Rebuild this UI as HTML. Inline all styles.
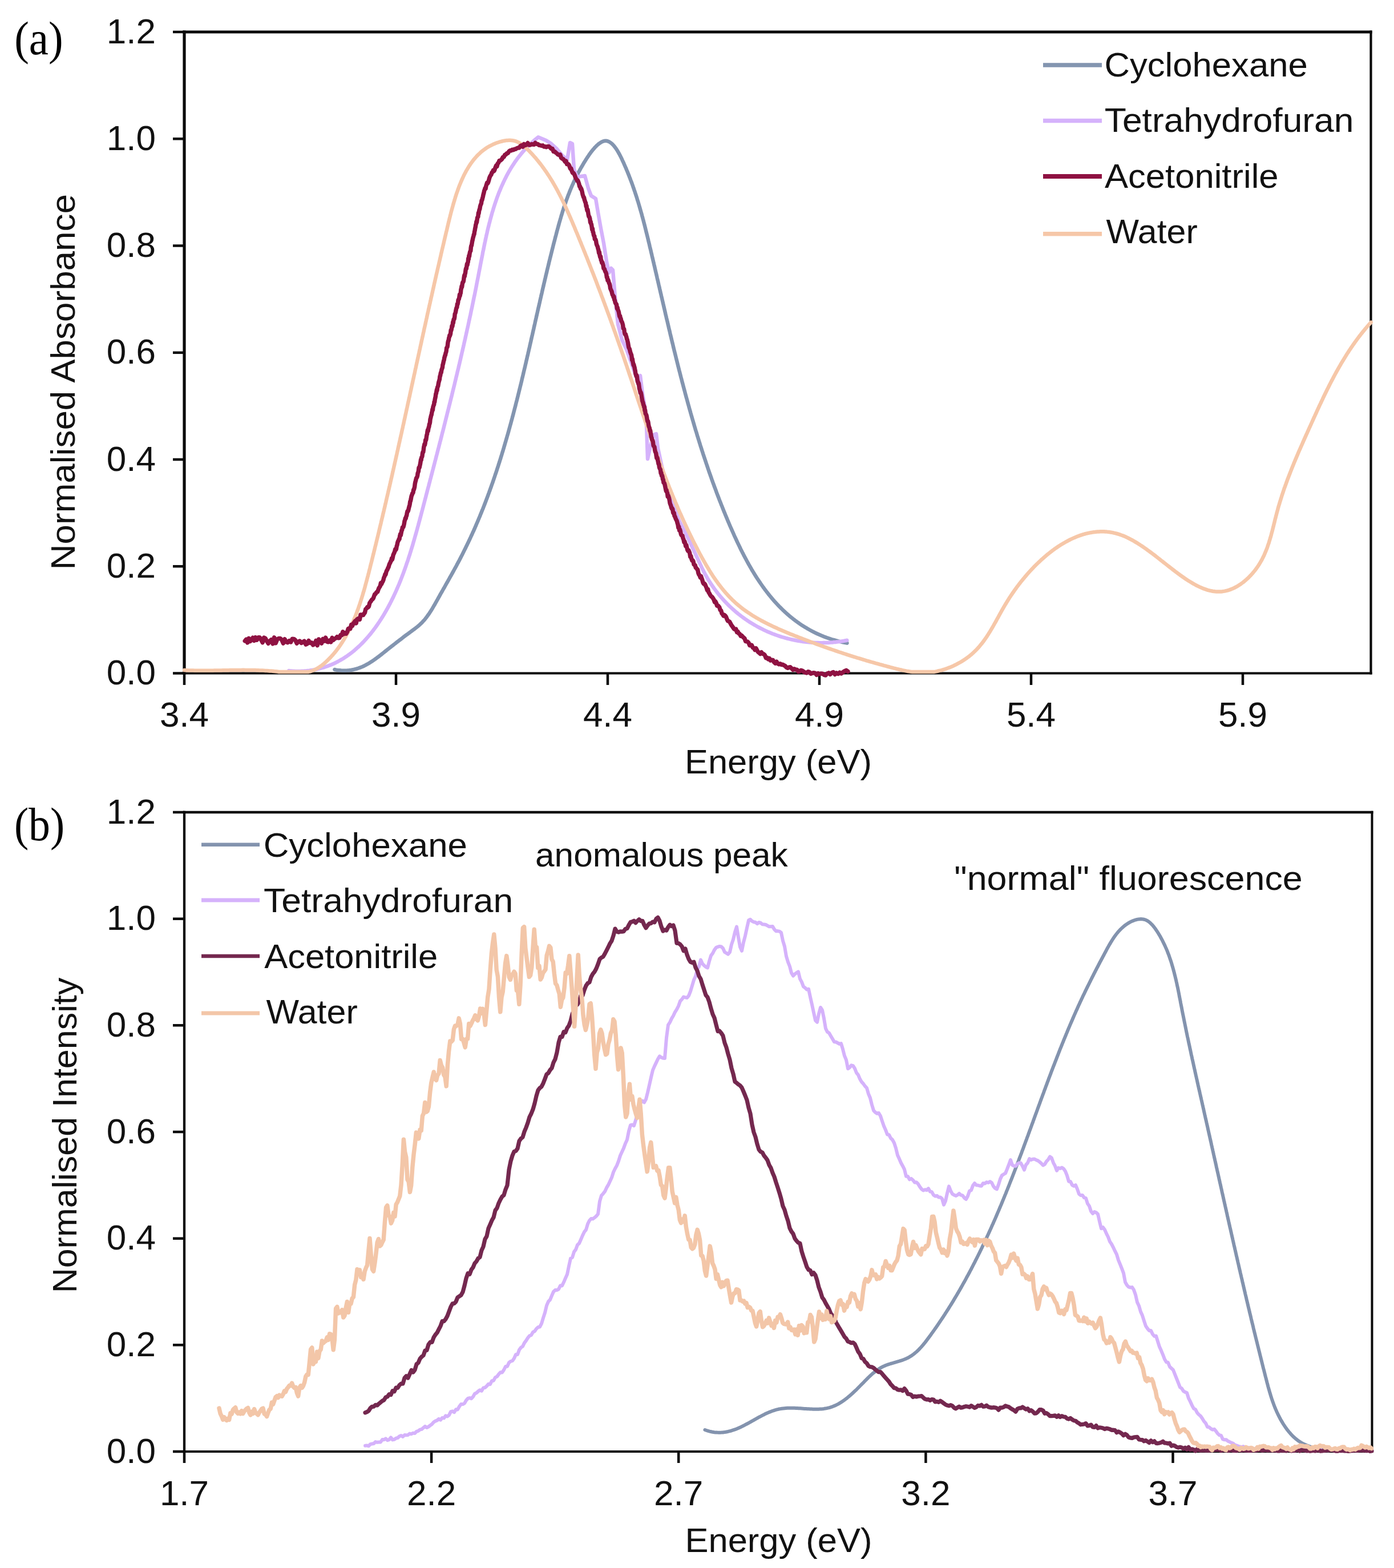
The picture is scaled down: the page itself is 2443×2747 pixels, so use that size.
<!DOCTYPE html><html><head><meta charset="utf-8"><style>html,body{margin:0;padding:0;background:#fff;}svg{display:block;filter:blur(0.6px);}.t{font-family:"Liberation Sans",Arial,sans-serif;fill:#111;}.s{font-family:"Liberation Serif","Times New Roman",serif;fill:#000;}</style></head><body>
<svg xmlns="http://www.w3.org/2000/svg" width="2443" height="2747" viewBox="0 0 2443 2747">
<rect width="2443" height="2747" fill="#fff"/>
<g stroke="#0a0a0a" fill="none">
<path d="M320.40 56.00 H2404.60" stroke-width="5.0"/><path d="M323.00 53.50 V1181.60" stroke-width="5.2"/><path d="M2402.50 53.50 V1181.60" stroke-width="4.2"/><path d="M320.40 1179.50 H2404.60" stroke-width="4.2"/>
<line x1="303" y1="1179.5" x2="323.0" y2="1179.5" stroke-width="4.5"/>
<line x1="303" y1="992.2" x2="323.0" y2="992.2" stroke-width="4.5"/>
<line x1="303" y1="805.0" x2="323.0" y2="805.0" stroke-width="4.5"/>
<line x1="303" y1="617.8" x2="323.0" y2="617.8" stroke-width="4.5"/>
<line x1="303" y1="430.5" x2="323.0" y2="430.5" stroke-width="4.5"/>
<line x1="303" y1="243.2" x2="323.0" y2="243.2" stroke-width="4.5"/>
<line x1="303" y1="56.0" x2="323.0" y2="56.0" stroke-width="4.5"/>
<line x1="323.0" y1="1179.5" x2="323.0" y2="1200" stroke-width="4.5"/>
<line x1="694.0" y1="1179.5" x2="694.0" y2="1200" stroke-width="4.5"/>
<line x1="1065.0" y1="1179.5" x2="1065.0" y2="1200" stroke-width="4.5"/>
<line x1="1436.0" y1="1179.5" x2="1436.0" y2="1200" stroke-width="4.5"/>
<line x1="1807.0" y1="1179.5" x2="1807.0" y2="1200" stroke-width="4.5"/>
<line x1="2178.0" y1="1179.5" x2="2178.0" y2="1200" stroke-width="4.5"/>
</g>
<path d="M586.4 1173.0 589.3 1173.6 592.2 1174.0 595.1 1174.3 597.8 1174.6 600.6 1174.7 603.3 1174.8 605.9 1174.7 608.5 1174.6 611.1 1174.4 613.6 1174.1 616.1 1173.7 618.5 1173.3 620.9 1172.7 623.2 1172.1 625.6 1171.5 627.8 1170.7 630.1 1169.9 632.3 1169.1 634.5 1168.2 636.7 1167.2 638.8 1166.2 640.9 1165.1 643.0 1163.9 645.1 1162.8 647.2 1161.6 649.2 1160.3 651.2 1159.0 653.2 1157.7 655.2 1156.3 657.2 1154.9 659.2 1153.5 661.1 1152.0 663.1 1150.6 665.0 1149.1 667.0 1147.6 668.9 1146.1 670.9 1144.5 672.8 1143.0 674.8 1141.4 676.7 1139.9 678.7 1138.3 680.6 1136.8 682.6 1135.2 684.6 1133.7 686.5 1132.1 688.5 1130.6 690.5 1129.0 692.5 1127.5 694.4 1125.9 696.4 1124.4 698.4 1122.9 700.4 1121.3 702.4 1119.8 704.4 1118.3 706.4 1116.7 708.4 1115.2 710.4 1113.7 712.4 1112.2 714.3 1110.8 716.3 1109.3 718.3 1107.8 720.3 1106.4 722.3 1104.9 724.3 1103.4 726.3 1102.0 728.2 1100.5 730.1 1099.0 732.0 1097.5 733.8 1096.0 735.6 1094.4 737.4 1092.7 739.1 1091.1 740.7 1089.3 742.3 1087.6 743.9 1085.8 745.4 1084.0 746.9 1082.1 748.3 1080.2 749.7 1078.2 751.1 1076.3 752.5 1074.3 753.8 1072.3 755.1 1070.2 756.4 1068.2 757.7 1066.1 758.9 1064.0 760.1 1061.9 761.4 1059.8 762.6 1057.7 763.8 1055.5 765.0 1053.4 766.2 1051.2 767.4 1049.1 768.6 1046.9 769.8 1044.8 771.0 1042.6 772.2 1040.4 773.5 1038.3 774.7 1036.1 775.9 1034.0 777.1 1031.8 778.4 1029.7 779.6 1027.5 780.8 1025.3 782.0 1023.2 783.2 1021.0 784.5 1018.8 785.7 1016.7 786.9 1014.5 788.1 1012.3 789.3 1010.1 790.6 1008.0 791.8 1005.8 793.0 1003.6 794.2 1001.4 795.4 999.2 796.6 997.0 797.8 994.9 799.0 992.7 800.2 990.5 801.3 988.3 802.5 986.1 803.7 983.9 804.9 981.7 806.0 979.5 807.2 977.2 808.3 975.0 809.5 972.8 810.6 970.6 811.7 968.4 812.8 966.1 813.9 963.9 815.0 961.7 816.1 959.5 817.2 957.2 818.3 955.0 819.4 952.7 820.5 950.5 821.5 948.2 822.6 946.0 823.7 943.7 824.7 941.5 825.7 939.2 826.8 937.0 827.8 934.7 828.8 932.4 829.9 930.2 830.9 927.9 831.9 925.6 832.9 923.3 833.9 921.1 834.8 918.8 835.8 916.5 836.8 914.2 837.8 911.9 838.7 909.6 839.7 907.3 840.7 905.0 841.6 902.7 842.5 900.4 843.5 898.1 844.4 895.8 845.3 893.5 846.3 891.2 847.2 888.9 848.1 886.6 849.0 884.3 849.9 882.0 850.8 879.6 851.7 877.3 852.5 875.0 853.4 872.7 854.3 870.3 855.2 868.0 856.0 865.7 856.9 863.3 857.7 861.0 858.6 858.7 859.4 856.3 860.3 854.0 861.1 851.6 861.9 849.3 862.8 846.9 863.6 844.6 864.4 842.2 865.2 839.9 866.0 837.5 866.8 835.2 867.6 832.8 868.4 830.4 869.2 828.1 870.0 825.7 870.8 823.4 871.5 821.0 872.3 818.6 873.1 816.2 873.8 813.9 874.6 811.5 875.4 809.1 876.1 806.7 876.9 804.4 877.6 802.0 878.3 799.6 879.1 797.2 879.8 794.8 880.5 792.4 881.3 790.1 882.0 787.7 882.7 785.3 883.4 782.9 884.1 780.5 884.8 778.1 885.5 775.7 886.2 773.3 886.9 770.9 887.6 768.5 888.3 766.1 889.0 763.7 889.7 761.3 890.4 758.9 891.1 756.5 891.7 754.1 892.4 751.7 893.1 749.2 893.7 746.8 894.4 744.4 895.1 742.0 895.7 739.6 896.4 737.2 897.0 734.8 897.7 732.3 898.3 729.9 899.0 727.5 899.6 725.1 900.2 722.7 900.9 720.2 901.5 717.8 902.1 715.4 902.8 713.0 903.4 710.6 904.0 708.1 904.6 705.7 905.2 703.3 905.9 700.8 906.5 698.4 907.1 696.0 907.7 693.6 908.3 691.1 908.9 688.7 909.5 686.3 910.1 683.8 910.7 681.4 911.3 679.0 911.9 676.5 912.5 674.1 913.1 671.7 913.7 669.2 914.3 666.8 914.8 664.3 915.4 661.9 916.0 659.5 916.6 657.0 917.2 654.6 917.7 652.2 918.3 649.7 918.9 647.3 919.5 644.8 920.1 642.4 920.6 640.0 921.2 637.5 921.8 635.1 922.3 632.6 922.9 630.2 923.5 627.8 924.0 625.3 924.6 622.9 925.2 620.4 925.7 618.0 926.3 615.5 926.8 613.1 927.4 610.7 928.0 608.2 928.5 605.8 929.1 603.3 929.6 600.9 930.2 598.5 930.7 596.0 931.3 593.6 931.8 591.1 932.4 588.7 933.0 586.2 933.5 583.8 934.1 581.4 934.6 578.9 935.2 576.5 935.7 574.0 936.3 571.6 936.8 569.2 937.4 566.7 937.9 564.3 938.5 561.8 939.0 559.4 939.6 557.0 940.1 554.5 940.7 552.1 941.2 549.7 941.8 547.2 942.3 544.8 942.9 542.4 943.4 539.9 944.0 537.5 944.6 535.1 945.1 532.6 945.7 530.2 946.2 527.8 946.8 525.3 947.3 522.9 947.9 520.5 948.4 518.0 949.0 515.6 949.6 513.2 950.1 510.8 950.7 508.3 951.2 505.9 951.8 503.5 952.4 501.1 952.9 498.6 953.5 496.2 954.1 493.8 954.6 491.4 955.2 489.0 955.8 486.5 956.3 484.1 956.9 481.7 957.5 479.3 958.1 476.9 958.6 474.5 959.2 472.0 959.8 469.6 960.4 467.2 961.0 464.8 961.6 462.4 962.1 460.0 962.7 457.6 963.3 455.2 963.9 452.8 964.5 450.4 965.1 448.0 965.7 445.6 966.3 443.2 966.9 440.8 967.5 438.4 968.1 436.0 968.7 433.6 969.3 431.2 969.9 428.8 970.5 426.4 971.1 424.1 971.8 421.7 972.4 419.3 973.0 416.9 973.6 414.5 974.3 412.1 974.9 409.8 975.5 407.4 976.1 405.0 976.8 402.6 977.4 400.3 978.1 397.9 978.7 395.5 979.4 393.2 980.0 390.8 980.7 388.4 981.4 386.1 982.1 383.7 982.8 381.3 983.4 379.0 984.2 376.6 984.9 374.3 985.6 371.9 986.3 369.5 987.1 367.2 987.8 364.8 988.6 362.5 989.4 360.1 990.2 357.8 991.0 355.4 991.8 353.0 992.6 350.7 993.5 348.3 994.4 346.0 995.2 343.6 996.1 341.3 997.1 338.9 998.0 336.5 998.9 334.2 999.9 331.8 1000.9 329.5 1001.9 327.1 1002.9 324.8 1004.0 322.4 1005.0 320.0 1006.1 317.7 1007.2 315.3 1008.3 313.0 1009.5 310.6 1010.7 308.2 1011.9 305.9 1013.1 303.5 1014.3 301.1 1015.6 298.8 1016.9 296.4 1018.2 294.0 1019.6 291.7 1021.0 289.3 1022.4 286.9 1023.8 284.5 1025.3 282.2 1026.8 279.8 1028.3 277.4 1029.8 275.1 1031.4 272.8 1032.9 270.5 1034.5 268.3 1036.2 266.1 1037.8 264.0 1039.4 262.0 1041.1 260.1 1042.7 258.2 1044.4 256.5 1046.0 254.9 1047.7 253.4 1049.3 252.0 1051.0 250.8 1052.6 249.7 1054.2 248.7 1055.9 248.0 1057.5 247.4 1059.1 247.0 1060.6 246.8 1062.2 246.8 1063.7 247.0 1065.3 247.4 1066.8 248.0 1068.2 248.8 1069.7 249.7 1071.1 250.8 1072.6 252.0 1074.0 253.4 1075.4 254.9 1076.7 256.5 1078.1 258.3 1079.4 260.1 1080.7 262.1 1082.0 264.1 1083.3 266.2 1084.5 268.4 1085.8 270.7 1087.0 273.0 1088.2 275.4 1089.4 277.8 1090.5 280.3 1091.7 282.8 1092.8 285.2 1093.9 287.7 1095.0 290.3 1096.1 292.8 1097.2 295.2 1098.2 297.7 1099.3 300.2 1100.3 302.7 1101.3 305.2 1102.3 307.7 1103.2 310.2 1104.2 312.6 1105.1 315.1 1106.1 317.6 1107.0 320.0 1107.9 322.5 1108.8 325.0 1109.6 327.4 1110.5 329.9 1111.3 332.3 1112.2 334.8 1113.0 337.2 1113.8 339.7 1114.6 342.1 1115.4 344.6 1116.2 347.0 1116.9 349.4 1117.7 351.9 1118.5 354.3 1119.2 356.8 1119.9 359.2 1120.6 361.6 1121.3 364.0 1122.0 366.5 1122.7 368.9 1123.4 371.3 1124.1 373.7 1124.8 376.2 1125.4 378.6 1126.1 381.0 1126.7 383.4 1127.4 385.8 1128.0 388.3 1128.6 390.7 1129.3 393.1 1129.9 395.5 1130.5 397.9 1131.1 400.3 1131.7 402.7 1132.3 405.2 1132.9 407.6 1133.5 410.0 1134.1 412.4 1134.7 414.8 1135.3 417.2 1135.9 419.6 1136.4 422.0 1137.0 424.4 1137.6 426.8 1138.2 429.3 1138.7 431.7 1139.3 434.1 1139.9 436.5 1140.5 438.9 1141.0 441.3 1141.6 443.7 1142.2 446.1 1142.7 448.5 1143.3 451.0 1143.9 453.4 1144.4 455.8 1145.0 458.2 1145.6 460.6 1146.1 463.0 1146.7 465.4 1147.3 467.8 1147.8 470.3 1148.4 472.7 1148.9 475.1 1149.5 477.5 1150.1 479.9 1150.6 482.3 1151.2 484.7 1151.7 487.2 1152.3 489.6 1152.9 492.0 1153.4 494.4 1154.0 496.8 1154.5 499.2 1155.1 501.6 1155.7 504.1 1156.2 506.5 1156.8 508.9 1157.3 511.3 1157.9 513.7 1158.5 516.1 1159.0 518.5 1159.6 521.0 1160.2 523.4 1160.7 525.8 1161.3 528.2 1161.8 530.6 1162.4 533.0 1163.0 535.5 1163.5 537.9 1164.1 540.3 1164.7 542.7 1165.2 545.1 1165.8 547.5 1166.3 549.9 1166.9 552.4 1167.5 554.8 1168.0 557.2 1168.6 559.6 1169.2 562.0 1169.8 564.4 1170.3 566.8 1170.9 569.3 1171.5 571.7 1172.0 574.1 1172.6 576.5 1173.2 578.9 1173.8 581.3 1174.3 583.7 1174.9 586.2 1175.5 588.6 1176.1 591.0 1176.6 593.4 1177.2 595.8 1177.8 598.2 1178.4 600.6 1179.0 603.0 1179.6 605.5 1180.1 607.9 1180.7 610.3 1181.3 612.7 1181.9 615.1 1182.5 617.5 1183.1 619.9 1183.7 622.3 1184.3 624.8 1184.9 627.2 1185.5 629.6 1186.1 632.0 1186.7 634.4 1187.3 636.8 1187.9 639.2 1188.5 641.6 1189.1 644.0 1189.7 646.4 1190.3 648.8 1191.0 651.3 1191.6 653.7 1192.2 656.1 1192.8 658.5 1193.4 660.9 1194.1 663.3 1194.7 665.7 1195.3 668.1 1195.9 670.5 1196.6 672.9 1197.2 675.3 1197.8 677.7 1198.5 680.1 1199.1 682.5 1199.8 684.9 1200.4 687.3 1201.0 689.7 1201.7 692.1 1202.3 694.5 1203.0 696.9 1203.7 699.3 1204.3 701.7 1205.0 704.1 1205.6 706.5 1206.3 708.9 1207.0 711.3 1207.6 713.7 1208.3 716.1 1209.0 718.5 1209.7 720.9 1210.3 723.3 1211.0 725.7 1211.7 728.1 1212.4 730.5 1213.1 732.9 1213.8 735.3 1214.5 737.7 1215.2 740.1 1215.9 742.5 1216.6 744.9 1217.3 747.3 1218.0 749.7 1218.7 752.1 1219.4 754.5 1220.2 756.8 1220.9 759.2 1221.6 761.6 1222.3 764.0 1223.1 766.4 1223.8 768.8 1224.6 771.2 1225.3 773.6 1226.0 775.9 1226.8 778.3 1227.5 780.7 1228.3 783.1 1229.1 785.5 1229.8 787.9 1230.6 790.2 1231.4 792.6 1232.1 795.0 1232.9 797.4 1233.7 799.8 1234.5 802.1 1235.3 804.5 1236.1 806.9 1236.9 809.3 1237.7 811.7 1238.5 814.0 1239.3 816.4 1240.1 818.8 1240.9 821.2 1241.7 823.5 1242.5 825.9 1243.3 828.3 1244.2 830.6 1245.0 833.0 1245.9 835.4 1246.7 837.8 1247.5 840.1 1248.4 842.5 1249.2 844.9 1250.1 847.2 1251.0 849.6 1251.8 852.0 1252.7 854.3 1253.6 856.7 1254.5 859.0 1255.3 861.4 1256.2 863.8 1257.1 866.1 1258.0 868.5 1258.9 870.8 1259.8 873.2 1260.7 875.6 1261.6 877.9 1262.6 880.3 1263.5 882.6 1264.4 885.0 1265.4 887.3 1266.3 889.7 1267.2 892.0 1268.2 894.4 1269.1 896.7 1270.1 899.1 1271.0 901.4 1272.0 903.8 1273.0 906.1 1274.0 908.5 1274.9 910.8 1275.9 913.1 1276.9 915.5 1277.9 917.8 1278.9 920.2 1279.9 922.5 1280.9 924.8 1282.0 927.2 1283.0 929.5 1284.0 931.8 1285.1 934.2 1286.1 936.5 1287.1 938.8 1288.2 941.1 1289.3 943.4 1290.3 945.7 1291.4 948.0 1292.5 950.3 1293.6 952.6 1294.7 954.9 1295.8 957.2 1296.9 959.5 1298.0 961.8 1299.1 964.1 1300.3 966.3 1301.4 968.6 1302.6 970.8 1303.7 973.1 1304.9 975.3 1306.1 977.6 1307.3 979.8 1308.5 982.0 1309.7 984.2 1310.9 986.4 1312.1 988.6 1313.4 990.8 1314.6 993.0 1315.9 995.1 1317.1 997.3 1318.4 999.5 1319.7 1001.6 1321.0 1003.7 1322.3 1005.9 1323.6 1008.0 1324.9 1010.1 1326.3 1012.2 1327.6 1014.2 1329.0 1016.3 1330.4 1018.4 1331.8 1020.4 1333.2 1022.5 1334.6 1024.5 1336.0 1026.5 1337.4 1028.5 1338.9 1030.5 1340.3 1032.5 1341.8 1034.4 1343.3 1036.4 1344.8 1038.3 1346.3 1040.2 1347.8 1042.2 1349.3 1044.0 1350.9 1045.9 1352.5 1047.8 1354.0 1049.6 1355.6 1051.5 1357.2 1053.3 1358.8 1055.1 1360.5 1056.9 1362.1 1058.7 1363.8 1060.4 1365.5 1062.2 1367.2 1063.9 1368.9 1065.6 1370.6 1067.3 1372.3 1069.0 1374.1 1070.6 1375.8 1072.3 1377.6 1073.9 1379.4 1075.5 1381.2 1077.1 1383.1 1078.7 1384.9 1080.2 1386.8 1081.8 1388.7 1083.3 1390.6 1084.8 1392.5 1086.2 1394.4 1087.7 1396.4 1089.1 1398.3 1090.5 1400.3 1091.9 1402.3 1093.3 1404.3 1094.7 1406.4 1096.0 1408.4 1097.3 1410.5 1098.6 1412.6 1099.8 1414.7 1101.1 1416.8 1102.3 1419.0 1103.5 1421.1 1104.7 1423.3 1105.8 1425.5 1107.0 1427.7 1108.1 1430.0 1109.2 1432.2 1110.2 1434.5 1111.3 1436.8 1112.3 1439.1 1113.3 1441.5 1114.2 1443.8 1115.2 1446.2 1116.1 1448.6 1117.0 1451.0 1117.8 1453.5 1118.7 1455.9 1119.5 1458.4 1120.3 1460.9 1121.0 1463.5 1121.7 1466.0 1122.4 1468.6 1123.1 1471.2 1123.8 1473.8 1124.4 1476.4 1125.0 1479.1 1125.6 1481.8 1126.1 1484.5 1126.6" fill="none" stroke="#8395b0" stroke-width="6.5" stroke-linejoin="round" stroke-linecap="round"/>
<path d="M506.3 1175.1 509.2 1175.4 512.1 1175.6 514.9 1175.7 517.8 1175.9 520.6 1175.9 523.4 1175.9 526.2 1175.9 528.9 1175.8 531.7 1175.7 534.4 1175.5 537.0 1175.3 539.7 1175.0 542.3 1174.7 544.9 1174.3 547.5 1173.9 550.0 1173.5 552.6 1173.0 555.1 1172.5 557.6 1171.9 560.0 1171.3 562.5 1170.7 564.9 1170.0 567.3 1169.3 569.7 1168.5 572.0 1167.7 574.3 1166.9 576.6 1166.0 578.9 1165.1 581.2 1164.2 583.4 1163.2 585.7 1162.2 587.8 1161.2 590.0 1160.1 592.2 1159.0 594.3 1157.8 596.4 1156.6 598.5 1155.4 600.6 1154.2 602.6 1152.9 604.7 1151.6 606.7 1150.3 608.7 1148.9 610.6 1147.5 612.6 1146.1 614.5 1144.7 616.4 1143.2 618.3 1141.7 620.2 1140.2 622.0 1138.6 623.8 1137.0 625.6 1135.4 627.4 1133.8 629.2 1132.2 631.0 1130.5 632.7 1128.8 634.4 1127.1 636.1 1125.4 637.8 1123.6 639.4 1121.8 641.1 1120.0 642.7 1118.2 644.3 1116.4 645.9 1114.5 647.5 1112.6 649.0 1110.8 650.6 1108.9 652.1 1106.9 653.6 1105.0 655.1 1103.0 656.5 1101.1 658.0 1099.1 659.4 1097.1 660.8 1095.1 662.2 1093.1 663.6 1091.0 665.0 1089.0 666.3 1086.9 667.7 1084.9 669.0 1082.8 670.3 1080.7 671.6 1078.6 672.9 1076.5 674.1 1074.4 675.4 1072.2 676.6 1070.1 677.8 1067.9 679.0 1065.8 680.2 1063.6 681.4 1061.4 682.5 1059.3 683.7 1057.1 684.8 1054.9 685.9 1052.7 687.0 1050.4 688.1 1048.2 689.2 1046.0 690.3 1043.7 691.3 1041.5 692.4 1039.2 693.4 1037.0 694.4 1034.7 695.4 1032.4 696.4 1030.1 697.4 1027.8 698.4 1025.5 699.4 1023.2 700.3 1020.9 701.3 1018.6 702.2 1016.3 703.1 1013.9 704.0 1011.6 704.9 1009.3 705.8 1006.9 706.7 1004.6 707.6 1002.2 708.4 999.8 709.3 997.5 710.1 995.1 711.0 992.7 711.8 990.3 712.6 987.9 713.4 985.5 714.3 983.1 715.1 980.7 715.8 978.3 716.6 975.9 717.4 973.5 718.2 971.1 718.9 968.7 719.7 966.3 720.4 963.8 721.2 961.4 721.9 959.0 722.7 956.5 723.4 954.1 724.1 951.7 724.8 949.2 725.5 946.8 726.2 944.3 726.9 941.9 727.6 939.4 728.3 937.0 729.0 934.5 729.7 932.1 730.4 929.6 731.1 927.2 731.7 924.7 732.4 922.3 733.1 919.8 733.7 917.4 734.4 914.9 735.1 912.4 735.7 910.0 736.4 907.5 737.0 905.1 737.7 902.6 738.3 900.2 739.0 897.7 739.6 895.3 740.3 892.8 740.9 890.4 741.6 887.9 742.2 885.5 742.8 883.0 743.5 880.6 744.1 878.1 744.8 875.7 745.4 873.2 746.1 870.8 746.7 868.4 747.3 865.9 748.0 863.5 748.6 861.1 749.2 858.6 749.9 856.2 750.5 853.8 751.2 851.3 751.8 848.9 752.4 846.5 753.1 844.1 753.7 841.6 754.3 839.2 755.0 836.8 755.6 834.4 756.2 832.0 756.9 829.5 757.5 827.1 758.1 824.7 758.8 822.3 759.4 819.9 760.0 817.5 760.7 815.0 761.3 812.6 761.9 810.2 762.5 807.8 763.2 805.4 763.8 803.0 764.4 800.6 765.0 798.2 765.7 795.8 766.3 793.4 766.9 791.0 767.5 788.6 768.1 786.2 768.8 783.8 769.4 781.4 770.0 779.0 770.6 776.6 771.2 774.2 771.9 771.8 772.5 769.4 773.1 767.0 773.7 764.6 774.3 762.2 774.9 759.8 775.5 757.4 776.2 755.0 776.8 752.6 777.4 750.2 778.0 747.8 778.6 745.4 779.2 743.0 779.8 740.6 780.4 738.2 781.0 735.8 781.6 733.4 782.2 731.0 782.8 728.6 783.4 726.2 784.0 723.8 784.6 721.4 785.2 719.0 785.8 716.7 786.4 714.3 787.0 711.9 787.6 709.5 788.2 707.1 788.8 704.7 789.4 702.3 790.0 699.9 790.6 697.5 791.2 695.1 791.8 692.7 792.4 690.3 792.9 687.9 793.5 685.5 794.1 683.1 794.7 680.7 795.3 678.3 795.9 675.9 796.5 673.5 797.0 671.1 797.6 668.7 798.2 666.3 798.8 663.9 799.3 661.5 799.9 659.1 800.5 656.7 801.1 654.3 801.6 651.9 802.2 649.5 802.8 647.1 803.4 644.7 803.9 642.3 804.5 639.9 805.1 637.5 805.6 635.1 806.2 632.7 806.8 630.3 807.3 627.8 807.9 625.4 808.4 623.0 809.0 620.6 809.5 618.2 810.1 615.8 810.7 613.4 811.2 610.9 811.8 608.5 812.3 606.1 812.9 603.7 813.4 601.3 814.0 598.8 814.5 596.4 815.1 594.0 815.6 591.6 816.1 589.1 816.7 586.7 817.2 584.3 817.8 581.8 818.3 579.4 818.8 577.0 819.4 574.5 819.9 572.1 820.5 569.7 821.0 567.2 821.5 564.8 822.0 562.3 822.6 559.9 823.1 557.4 823.6 555.0 824.2 552.5 824.7 550.1 825.2 547.6 825.7 545.2 826.2 542.7 826.8 540.3 827.3 537.8 827.8 535.4 828.3 532.9 828.8 530.4 829.3 528.0 829.8 525.5 830.3 523.0 830.8 520.5 831.4 518.1 831.9 515.6 832.4 513.1 832.9 510.6 833.4 508.2 833.9 505.7 834.4 503.2 834.9 500.7 835.3 498.2 835.8 495.7 836.3 493.2 836.8 490.7 837.3 488.2 837.8 485.7 838.3 483.2 838.8 480.7 839.2 478.2 839.7 475.7 840.2 473.2 840.7 470.7 841.2 468.2 841.7 465.7 842.1 463.1 842.6 460.6 843.1 458.1 843.6 455.6 844.1 453.1 844.6 450.6 845.1 448.1 845.6 445.5 846.0 443.0 846.5 440.5 847.1 438.0 847.6 435.5 848.1 433.0 848.6 430.5 849.1 428.0 849.6 425.5 850.2 423.0 850.7 420.5 851.2 418.0 851.8 415.5 852.3 413.0 852.9 410.5 853.5 408.0 854.0 405.6 854.6 403.1 855.2 400.6 855.8 398.1 856.4 395.7 857.0 393.2 857.6 390.8 858.3 388.3 858.9 385.9 859.5 383.5 860.2 381.0 860.9 378.6 861.6 376.2 862.2 373.8 862.9 371.4 863.7 369.0 864.4 366.6 865.1 364.2 865.9 361.8 866.6 359.5 867.4 357.1 868.2 354.8 869.0 352.4 869.8 350.1 870.6 347.8 871.4 345.4 872.3 343.1 873.2 340.8 874.0 338.5 874.9 336.3 875.9 334.0 876.8 331.7 877.7 329.5 878.7 327.2 879.7 325.0 880.7 322.8 881.7 320.6 882.7 318.4 883.8 316.2 884.8 314.0 885.9 311.9 887.0 309.7 888.1 307.6 889.3 305.4 890.4 303.3 891.6 301.2 892.8 299.1 894.0 297.1 895.2 295.0 896.5 293.0 897.8 290.9 899.1 288.9 900.4 286.9 901.7 284.9 903.1 282.9 904.5 281.0 905.9 279.0 907.3 277.1 908.8 275.2 910.3 273.3 911.8 271.4 913.3 269.5 914.9 267.7 916.4 265.8 918.0 264.0 919.7 262.2 921.3 260.4 923.0 258.6 924.7 256.9 926.4 255.1 928.2 253.4 930.0 251.7 931.8 250.0 933.6 248.4 935.5 246.7 937.4 245.1 939.3 243.5 941.3 241.9 943.2 240.3 957.0 246.0 965.0 251.0 976.0 261.0 986.0 273.0 994.0 280.0 997.0 262.0 999.0 250.0 1003.0 252.0 1006.0 296.0 1011.0 310.0 1025.0 308.0 1031.0 330.0 1036.0 343.0 1044.0 348.0 1048.0 372.0 1053.0 400.0 1058.0 426.0 1063.0 458.0 1067.0 478.0 1071.0 470.0 1074.0 473.0 1078.0 520.0 1083.0 568.0 1090.0 595.0 1098.0 612.0 1110.0 646.0 1118.0 668.0 1122.0 658.0 1126.0 690.0 1130.0 712.0 1133.0 745.0 1135.0 804.0 1138.0 790.0 1145.0 762.0 1150.0 760.0 1153.0 785.0 1160.0 818.0 1168.0 848.0 1177.0 878.0 1190.0 912.0 1204.0 939.0 1228.4 991.1 1229.5 993.5 1230.6 995.8 1231.8 998.2 1232.9 1000.5 1234.1 1002.8 1235.3 1005.1 1236.6 1007.4 1237.9 1009.6 1239.1 1011.9 1240.4 1014.1 1241.8 1016.3 1243.1 1018.4 1244.5 1020.6 1245.9 1022.7 1247.3 1024.8 1248.7 1026.9 1250.2 1029.0 1251.7 1031.1 1253.2 1033.1 1254.7 1035.1 1256.2 1037.1 1257.8 1039.1 1259.3 1041.1 1260.9 1043.0 1262.5 1044.9 1264.2 1046.8 1265.8 1048.7 1267.5 1050.6 1269.2 1052.4 1270.9 1054.2 1272.6 1056.0 1274.3 1057.8 1276.1 1059.6 1277.8 1061.3 1279.6 1063.0 1281.4 1064.7 1283.3 1066.4 1285.1 1068.0 1287.0 1069.7 1288.8 1071.3 1290.7 1072.9 1292.6 1074.4 1294.5 1076.0 1296.5 1077.5 1298.4 1079.0 1300.4 1080.5 1302.4 1082.0 1304.4 1083.4 1306.4 1084.8 1308.4 1086.2 1310.4 1087.6 1312.5 1088.9 1314.5 1090.2 1316.6 1091.5 1318.7 1092.8 1320.8 1094.1 1322.9 1095.3 1325.1 1096.5 1327.2 1097.7 1329.4 1098.9 1331.5 1100.0 1333.7 1101.1 1335.9 1102.2 1338.1 1103.3 1340.3 1104.4 1342.5 1105.4 1344.8 1106.4 1347.0 1107.4 1349.3 1108.3 1351.5 1109.2 1353.8 1110.2 1356.1 1111.0 1358.4 1111.9 1360.7 1112.7 1363.0 1113.5 1365.4 1114.3 1367.7 1115.1 1370.0 1115.8 1372.4 1116.5 1374.7 1117.2 1377.1 1117.9 1379.5 1118.5 1381.9 1119.1 1384.3 1119.7 1386.7 1120.3 1389.1 1120.8 1391.5 1121.3 1393.9 1121.8 1396.4 1122.3 1398.8 1122.7 1401.3 1123.1 1403.7 1123.5 1406.2 1123.9 1408.6 1124.2 1411.1 1124.5 1413.6 1124.8 1416.1 1125.1 1418.5 1125.3 1421.0 1125.5 1423.5 1125.7 1426.0 1125.8 1428.5 1126.0 1431.0 1126.1 1433.6 1126.1 1436.1 1126.2 1438.6 1126.2 1441.1 1126.2 1443.6 1126.1 1446.2 1126.1 1448.7 1126.0 1451.2 1125.9 1453.8 1125.7 1456.3 1125.6 1458.9 1125.4 1461.4 1125.1 1464.0 1124.9 1466.5 1124.6 1469.1 1124.3 1471.6 1123.9 1474.2 1123.6 1476.7 1123.2 1479.3 1122.8 1481.9 1122.3 1484.4 1121.8" fill="none" stroke="#d5b2fb" stroke-width="6.5" stroke-linejoin="round" stroke-linecap="round"/>
<path d="M323.0 1174.1 325.6 1174.2 328.2 1174.3 330.8 1174.4 333.3 1174.5 335.9 1174.5 338.4 1174.6 341.0 1174.7 343.5 1174.7 346.0 1174.7 348.6 1174.8 351.1 1174.8 353.6 1174.8 356.1 1174.8 358.6 1174.8 361.0 1174.8 363.5 1174.8 366.0 1174.7 368.5 1174.7 370.9 1174.7 373.4 1174.7 375.9 1174.6 378.3 1174.6 380.8 1174.5 383.2 1174.5 385.7 1174.4 388.1 1174.4 390.6 1174.3 393.0 1174.3 395.5 1174.2 397.9 1174.2 400.4 1174.2 402.8 1174.1 405.3 1174.1 407.7 1174.0 410.2 1174.0 412.6 1173.9 415.1 1173.9 417.5 1173.9 420.0 1173.9 422.5 1173.9 424.9 1173.8 427.4 1173.8 429.9 1173.9 432.4 1173.9 434.8 1173.9 437.3 1173.9 439.8 1173.9 442.3 1174.0 444.8 1174.0 447.3 1174.1 449.8 1174.2 452.4 1174.3 454.9 1174.4 457.4 1174.5 460.0 1174.6 462.6 1174.7 465.1 1174.9 467.7 1175.0 470.3 1175.2 472.9 1175.4 475.5 1175.6 478.1 1175.8 480.7 1176.1 483.3 1176.3 486.0 1176.6 488.6 1176.9 491.3 1177.0 494.0 1177.0 496.6 1177.0 499.3 1177.0 501.9 1177.0 504.6 1177.0 507.2 1177.0 509.9 1177.0 512.5 1177.0 515.1 1177.0 517.7 1177.0 520.3 1177.0 522.8 1177.0 525.3 1177.0 527.9 1177.0 530.3 1177.0 532.8 1177.0 535.2 1177.0 537.6 1177.0 540.0 1177.0 542.3 1176.6 544.6 1176.0 546.9 1175.2 549.1 1174.4 551.3 1173.4 553.4 1172.4 555.5 1171.3 557.5 1170.1 559.6 1168.8 561.5 1167.5 563.5 1166.1 565.4 1164.6 567.3 1163.1 569.1 1161.5 570.9 1159.9 572.7 1158.2 574.4 1156.6 576.1 1154.8 577.8 1153.1 579.5 1151.4 581.1 1149.6 582.8 1147.8 584.3 1146.0 585.9 1144.1 587.4 1142.3 588.9 1140.4 590.4 1138.5 591.9 1136.6 593.3 1134.6 594.7 1132.7 596.1 1130.7 597.4 1128.7 598.8 1126.7 600.1 1124.6 601.4 1122.6 602.7 1120.5 603.9 1118.4 605.1 1116.3 606.4 1114.2 607.5 1112.1 608.7 1109.9 609.9 1107.8 611.0 1105.6 612.1 1103.4 613.2 1101.2 614.3 1099.0 615.3 1096.7 616.4 1094.5 617.4 1092.2 618.4 1090.0 619.4 1087.7 620.3 1085.4 621.3 1083.1 622.2 1080.8 623.2 1078.4 624.1 1076.1 625.0 1073.7 625.8 1071.4 626.7 1069.0 627.6 1066.6 628.4 1064.3 629.2 1061.9 630.1 1059.5 630.9 1057.0 631.7 1054.6 632.4 1052.2 633.2 1049.8 634.0 1047.3 634.7 1044.9 635.5 1042.4 636.2 1040.0 636.9 1037.5 637.7 1035.1 638.4 1032.6 639.1 1030.1 639.8 1027.7 640.4 1025.2 641.1 1022.7 641.8 1020.2 642.5 1017.7 643.1 1015.2 643.8 1012.7 644.4 1010.3 645.1 1007.8 645.7 1005.3 646.4 1002.8 647.0 1000.3 647.6 997.8 648.3 995.3 648.9 992.8 649.5 990.3 650.1 987.8 650.8 985.3 651.4 982.9 652.0 980.4 652.6 977.9 653.2 975.4 653.8 973.0 654.5 970.5 655.1 968.0 655.7 965.5 656.3 963.1 656.9 960.6 657.5 958.1 658.1 955.7 658.7 953.2 659.3 950.7 659.9 948.3 660.5 945.8 661.1 943.4 661.7 940.9 662.3 938.5 662.9 936.0 663.5 933.6 664.1 931.1 664.6 928.7 665.2 926.2 665.8 923.8 666.4 921.3 667.0 918.9 667.6 916.4 668.1 914.0 668.7 911.6 669.3 909.1 669.9 906.7 670.5 904.3 671.0 901.8 671.6 899.4 672.2 897.0 672.8 894.5 673.3 892.1 673.9 889.7 674.5 887.3 675.0 884.8 675.6 882.4 676.2 880.0 676.7 877.6 677.3 875.1 677.8 872.7 678.4 870.3 679.0 867.9 679.5 865.5 680.1 863.0 680.6 860.6 681.2 858.2 681.8 855.8 682.3 853.4 682.9 851.0 683.4 848.6 684.0 846.2 684.5 843.7 685.1 841.3 685.6 838.9 686.2 836.5 686.7 834.1 687.3 831.7 687.8 829.3 688.3 826.9 688.9 824.5 689.4 822.1 690.0 819.7 690.5 817.3 691.1 814.9 691.6 812.5 692.1 810.1 692.7 807.7 693.2 805.3 693.8 802.9 694.3 800.5 694.8 798.1 695.4 795.7 695.9 793.3 696.4 790.9 697.0 788.5 697.5 786.1 698.0 783.7 698.6 781.3 699.1 778.9 699.6 776.5 700.2 774.1 700.7 771.7 701.2 769.3 701.8 766.9 702.3 764.5 702.8 762.1 703.4 759.7 703.9 757.3 704.4 755.0 704.9 752.6 705.5 750.2 706.0 747.8 706.5 745.4 707.1 743.0 707.6 740.6 708.1 738.2 708.6 735.8 709.2 733.4 709.7 731.0 710.2 728.6 710.7 726.2 711.3 723.8 711.8 721.4 712.3 719.0 712.8 716.6 713.4 714.2 713.9 711.8 714.4 709.4 714.9 707.0 715.5 704.6 716.0 702.2 716.5 699.8 717.0 697.4 717.6 695.0 718.1 692.6 718.6 690.2 719.1 687.8 719.6 685.4 720.2 683.0 720.7 680.6 721.2 678.2 721.7 675.8 722.3 673.4 722.8 671.0 723.3 668.6 723.8 666.2 724.4 663.8 724.9 661.4 725.4 659.0 725.9 656.6 726.5 654.2 727.0 651.8 727.5 649.4 728.0 646.9 728.6 644.5 729.1 642.1 729.6 639.7 730.1 637.3 730.7 634.9 731.2 632.5 731.7 630.0 732.3 627.6 732.8 625.2 733.3 622.8 733.8 620.4 734.4 617.9 734.9 615.5 735.4 613.1 736.0 610.7 736.5 608.2 737.0 605.8 737.6 603.4 738.1 601.0 738.6 598.5 739.1 596.1 739.7 593.7 740.2 591.2 740.8 588.8 741.3 586.3 741.8 583.9 742.4 581.5 742.9 579.0 743.4 576.6 744.0 574.1 744.5 571.7 745.1 569.3 745.6 566.8 746.1 564.4 746.7 561.9 747.2 559.4 747.8 557.0 748.3 554.5 748.8 552.1 749.4 549.6 749.9 547.2 750.5 544.7 751.0 542.2 751.6 539.8 752.1 537.3 752.7 534.8 753.2 532.4 753.8 529.9 754.3 527.4 754.9 525.0 755.4 522.5 756.0 520.0 756.6 517.5 757.1 515.0 757.7 512.6 758.2 510.1 758.8 507.6 759.4 505.1 759.9 502.6 760.5 500.1 761.0 497.6 761.6 495.1 762.2 492.6 762.7 490.1 763.3 487.6 763.9 485.1 764.4 482.6 765.0 480.1 765.6 477.6 766.2 475.1 766.7 472.5 767.3 470.0 767.9 467.5 768.5 465.0 769.1 462.5 769.6 459.9 770.2 457.4 770.8 454.9 771.4 452.3 772.0 449.8 772.6 447.3 773.1 444.7 773.7 442.2 774.3 439.6 774.9 437.1 775.5 434.5 776.1 432.0 776.7 429.4 777.3 426.9 777.9 424.3 778.5 421.8 779.1 419.2 779.7 416.6 780.3 414.1 780.9 411.5 781.5 408.9 782.1 406.3 782.8 403.8 783.4 401.2 784.0 398.6 784.6 396.0 785.2 393.4 785.8 390.8 786.5 388.2 787.1 385.7 787.7 383.1 788.4 380.5 789.0 377.9 789.7 375.3 790.3 372.8 791.0 370.2 791.7 367.7 792.4 365.1 793.1 362.6 793.8 360.0 794.5 357.5 795.2 355.0 796.0 352.5 796.7 350.0 797.5 347.5 798.2 345.0 799.0 342.6 799.8 340.1 800.6 337.7 801.5 335.3 802.3 332.9 803.2 330.5 804.0 328.2 804.9 325.8 805.8 323.5 806.8 321.2 807.7 318.9 808.7 316.6 809.7 314.4 810.7 312.2 811.7 310.0 812.7 307.8 813.8 305.6 814.9 303.5 816.0 301.4 817.1 299.3 818.3 297.3 819.5 295.3 820.7 293.3 821.9 291.3 823.2 289.4 824.4 287.5 825.8 285.6 827.1 283.8 828.5 282.0 829.8 280.2 831.3 278.5 832.7 276.7 834.2 275.1 835.7 273.4 837.2 271.9 838.8 270.3 840.4 268.8 842.0 267.3 843.7 265.8 845.4 264.4 847.1 263.1 848.9 261.8 850.7 260.5 852.5 259.3 854.4 258.1 856.3 256.9 858.3 255.8 860.3 254.8 862.3 253.8 864.3 252.8 866.4 251.9 868.6 251.0 870.7 250.2 873.0 249.5 875.2 248.7 877.5 248.1 879.9 247.5 882.2 246.9 884.6 246.5 887.0 246.1 889.4 245.9 891.8 245.8 894.2 245.8 896.6 245.9 898.9 246.2 901.2 246.6 903.5 247.3 905.7 248.1 907.9 249.1 910.0 250.2 912.1 251.5 914.2 252.9 916.2 254.3 918.2 255.9 920.1 257.6 922.0 259.4 923.9 261.1 925.8 263.0 927.6 264.8 929.4 266.7 931.2 268.6 933.0 270.5 934.7 272.4 936.4 274.3 938.1 276.2 939.8 278.2 941.4 280.2 943.0 282.1 944.6 284.1 946.2 286.1 947.8 288.1 949.3 290.1 950.8 292.2 952.3 294.2 953.8 296.3 955.2 298.3 956.7 300.4 958.1 302.5 959.5 304.6 960.9 306.7 962.3 308.8 963.6 310.9 964.9 313.0 966.3 315.2 967.6 317.3 968.9 319.5 970.1 321.6 971.4 323.8 972.6 326.0 973.9 328.2 975.1 330.4 976.3 332.6 977.5 334.8 978.6 337.0 979.8 339.2 980.9 341.4 982.1 343.7 983.2 345.9 984.3 348.2 985.4 350.4 986.5 352.7 987.6 354.9 988.7 357.2 989.8 359.5 990.8 361.7 991.9 364.0 992.9 366.3 993.9 368.6 995.0 370.9 996.0 373.2 997.0 375.5 998.0 377.8 999.0 380.1 1000.0 382.4 1001.0 384.7 1002.0 387.0 1003.0 389.3 1003.9 391.6 1004.9 393.9 1005.9 396.2 1006.9 398.5 1007.8 400.9 1008.8 403.2 1009.7 405.5 1010.7 407.8 1011.7 410.1 1012.6 412.4 1013.6 414.8 1014.5 417.1 1015.5 419.4 1016.4 421.7 1017.4 424.0 1018.3 426.3 1019.2 428.7 1020.2 431.0 1021.1 433.3 1022.1 435.6 1023.0 437.9 1023.9 440.2 1024.9 442.6 1025.8 444.9 1026.7 447.2 1027.7 449.5 1028.6 451.8 1029.5 454.2 1030.4 456.5 1031.3 458.8 1032.3 461.1 1033.2 463.5 1034.1 465.8 1035.0 468.1 1035.9 470.4 1036.8 472.7 1037.7 475.1 1038.7 477.4 1039.6 479.7 1040.5 482.0 1041.4 484.4 1042.3 486.7 1043.2 489.0 1044.1 491.3 1045.0 493.7 1045.9 496.0 1046.7 498.3 1047.6 500.6 1048.5 503.0 1049.4 505.3 1050.3 507.6 1051.2 510.0 1052.1 512.3 1053.0 514.6 1053.8 516.9 1054.7 519.3 1055.6 521.6 1056.5 523.9 1057.3 526.3 1058.2 528.6 1059.1 530.9 1060.0 533.3 1060.8 535.6 1061.7 537.9 1062.6 540.3 1063.4 542.6 1064.3 545.0 1065.1 547.3 1066.0 549.6 1066.9 552.0 1067.7 554.3 1068.6 556.7 1069.4 559.0 1070.3 561.3 1071.1 563.7 1072.0 566.0 1072.8 568.4 1073.7 570.7 1074.5 573.0 1075.3 575.4 1076.2 577.7 1077.0 580.1 1077.9 582.4 1078.7 584.8 1079.5 587.1 1080.4 589.5 1081.2 591.8 1082.0 594.2 1082.8 596.5 1083.7 598.9 1084.5 601.2 1085.3 603.6 1086.1 605.9 1087.0 608.3 1087.8 610.7 1088.6 613.0 1089.4 615.4 1090.2 617.7 1091.1 620.1 1091.9 622.4 1092.7 624.8 1093.5 627.2 1094.3 629.5 1095.1 631.9 1095.9 634.3 1096.7 636.6 1097.5 639.0 1098.3 641.3 1099.1 643.7 1099.9 646.1 1100.7 648.4 1101.5 650.8 1102.3 653.2 1103.1 655.6 1103.9 657.9 1104.7 660.3 1105.5 662.7 1106.3 665.0 1107.1 667.4 1107.9 669.8 1108.7 672.1 1109.5 674.5 1110.3 676.9 1111.1 679.3 1111.9 681.6 1112.7 684.0 1113.5 686.4 1114.2 688.7 1115.0 691.1 1115.8 693.5 1116.6 695.9 1117.4 698.2 1118.2 700.6 1119.0 703.0 1119.8 705.4 1120.6 707.7 1121.4 710.1 1122.2 712.5 1123.0 714.8 1123.8 717.2 1124.6 719.6 1125.4 722.0 1126.2 724.3 1127.0 726.7 1127.8 729.1 1128.6 731.5 1129.4 733.8 1130.2 736.2 1131.0 738.6 1131.8 740.9 1132.6 743.3 1133.4 745.7 1134.3 748.0 1135.1 750.4 1135.9 752.8 1136.7 755.1 1137.5 757.5 1138.3 759.9 1139.2 762.2 1140.0 764.6 1140.8 767.0 1141.6 769.3 1142.5 771.7 1143.3 774.1 1144.1 776.4 1145.0 778.8 1145.8 781.1 1146.6 783.5 1147.5 785.8 1148.3 788.2 1149.2 790.6 1150.0 792.9 1150.9 795.3 1151.7 797.6 1152.6 800.0 1153.4 802.3 1154.3 804.7 1155.1 807.0 1156.0 809.4 1156.9 811.7 1157.7 814.1 1158.6 816.4 1159.5 818.8 1160.4 821.1 1161.2 823.4 1162.1 825.8 1163.0 828.1 1163.9 830.5 1164.8 832.8 1165.7 835.1 1166.6 837.5 1167.5 839.8 1168.4 842.1 1169.3 844.5 1170.2 846.8 1171.2 849.1 1172.1 851.4 1173.0 853.8 1173.9 856.1 1174.9 858.4 1175.8 860.7 1176.7 863.0 1177.7 865.3 1178.6 867.7 1179.6 870.0 1180.5 872.3 1181.5 874.6 1182.5 876.9 1183.4 879.2 1184.4 881.5 1185.4 883.8 1186.4 886.1 1187.4 888.4 1188.3 890.7 1189.3 893.0 1190.3 895.3 1191.3 897.6 1192.4 899.9 1193.4 902.1 1194.4 904.4 1195.4 906.7 1196.4 909.0 1197.5 911.3 1198.5 913.5 1199.6 915.8 1200.6 918.1 1201.7 920.4 1202.7 922.6 1203.8 924.9 1204.8 927.2 1205.9 929.4 1207.0 931.7 1208.1 933.9 1209.2 936.2 1210.3 938.4 1211.4 940.7 1212.5 942.9 1213.6 945.2 1214.7 947.4 1215.8 949.6 1217.0 951.9 1218.1 954.1 1219.3 956.3 1220.4 958.6 1221.6 960.8 1222.7 963.0 1223.9 965.2 1225.1 967.5 1226.2 969.7 1227.4 971.9 1228.6 974.1 1229.8 976.3 1231.0 978.5 1232.3 980.7 1233.5 982.9 1234.7 985.0 1236.0 987.2 1237.2 989.4 1238.5 991.5 1239.8 993.7 1241.1 995.8 1242.4 998.0 1243.7 1000.1 1245.0 1002.2 1246.3 1004.3 1247.7 1006.4 1249.0 1008.5 1250.4 1010.6 1251.8 1012.6 1253.2 1014.7 1254.6 1016.7 1256.1 1018.7 1257.5 1020.7 1259.0 1022.7 1260.5 1024.7 1262.0 1026.6 1263.5 1028.6 1265.0 1030.5 1266.6 1032.4 1268.1 1034.3 1269.7 1036.2 1271.3 1038.1 1273.0 1039.9 1274.6 1041.7 1276.3 1043.5 1277.9 1045.3 1279.7 1047.1 1281.4 1048.8 1283.1 1050.6 1284.9 1052.3 1286.7 1053.9 1288.5 1055.6 1290.3 1057.2 1292.2 1058.9 1294.1 1060.4 1296.0 1062.0 1297.9 1063.6 1299.9 1065.1 1301.8 1066.6 1303.8 1068.1 1305.8 1069.5 1307.9 1071.0 1309.9 1072.4 1312.0 1073.8 1314.1 1075.1 1316.2 1076.5 1318.3 1077.9 1320.4 1079.2 1322.6 1080.5 1324.7 1081.8 1326.9 1083.0 1329.1 1084.3 1331.3 1085.5 1333.5 1086.8 1335.8 1088.0 1338.0 1089.2 1340.3 1090.3 1342.5 1091.5 1344.8 1092.6 1347.1 1093.8 1349.4 1094.9 1351.7 1096.0 1354.0 1097.1 1356.3 1098.2 1358.7 1099.3 1361.0 1100.3 1363.3 1101.4 1365.7 1102.4 1368.0 1103.4 1370.4 1104.5 1372.7 1105.5 1375.1 1106.5 1377.4 1107.5 1379.8 1108.5 1382.2 1109.4 1384.5 1110.4 1386.9 1111.4 1389.3 1112.3 1391.6 1113.3 1394.0 1114.2 1396.4 1115.1 1398.7 1116.1 1401.1 1117.0 1403.5 1117.9 1405.8 1118.8 1408.2 1119.7 1410.5 1120.6 1412.9 1121.5 1415.2 1122.4 1417.6 1123.3 1419.9 1124.2 1422.3 1125.1 1424.6 1126.0 1426.9 1126.8 1429.3 1127.7 1431.6 1128.6 1434.0 1129.4 1436.3 1130.3 1438.6 1131.1 1441.0 1131.9 1443.3 1132.8 1445.7 1133.6 1448.0 1134.4 1450.3 1135.3 1452.7 1136.1 1455.0 1136.9 1457.3 1137.7 1459.7 1138.5 1462.0 1139.3 1464.3 1140.1 1466.7 1140.9 1469.0 1141.7 1471.3 1142.5 1473.7 1143.2 1476.0 1144.0 1478.4 1144.8 1480.7 1145.5 1483.1 1146.3 1485.4 1147.1 1487.7 1147.8 1490.1 1148.6 1492.4 1149.3 1494.8 1150.1 1497.1 1150.8 1499.5 1151.5 1501.9 1152.3 1504.2 1153.0 1506.6 1153.7 1508.9 1154.4 1511.3 1155.1 1513.7 1155.8 1516.0 1156.5 1518.4 1157.3 1520.8 1158.0 1523.2 1158.6 1525.5 1159.3 1527.9 1160.0 1530.3 1160.7 1532.7 1161.4 1535.1 1162.1 1537.5 1162.7 1539.9 1163.4 1542.3 1164.1 1544.7 1164.7 1547.1 1165.4 1549.6 1166.1 1552.0 1166.7 1554.4 1167.4 1556.8 1168.0 1559.3 1168.7 1561.7 1169.3 1564.1 1169.9 1566.6 1170.6 1569.0 1171.2 1571.5 1171.8 1574.0 1172.4 1576.4 1173.0 1578.9 1173.5 1581.4 1174.1 1583.8 1174.6 1586.3 1175.1 1588.8 1175.6 1591.3 1176.0 1593.8 1176.4 1596.3 1176.8 1598.8 1177.0 1601.3 1177.0 1603.8 1177.0 1606.3 1177.0 1608.8 1177.0 1611.3 1177.0 1613.8 1177.0 1616.3 1177.0 1618.9 1177.0 1621.4 1177.0 1623.9 1177.0 1626.4 1177.0 1629.0 1177.0 1631.5 1177.0 1634.0 1177.0 1636.6 1177.0 1639.1 1176.6 1641.6 1176.1 1644.1 1175.5 1646.6 1174.9 1649.2 1174.3 1651.6 1173.6 1654.1 1172.8 1656.6 1172.1 1659.0 1171.2 1661.5 1170.3 1663.9 1169.4 1666.3 1168.4 1668.7 1167.4 1671.0 1166.4 1673.3 1165.3 1675.7 1164.1 1677.9 1162.9 1680.2 1161.7 1682.4 1160.5 1684.6 1159.2 1686.8 1157.9 1688.9 1156.5 1691.0 1155.1 1693.0 1153.7 1695.1 1152.3 1697.0 1150.8 1699.0 1149.3 1700.9 1147.7 1702.7 1146.2 1704.5 1144.6 1706.3 1143.0 1708.0 1141.3 1709.7 1139.7 1711.4 1138.0 1713.0 1136.3 1714.6 1134.5 1716.1 1132.8 1717.6 1131.0 1719.1 1129.2 1720.6 1127.4 1722.0 1125.6 1723.4 1123.7 1724.8 1121.8 1726.1 1119.9 1727.5 1118.0 1728.8 1116.1 1730.1 1114.2 1731.3 1112.2 1732.6 1110.2 1733.8 1108.2 1735.1 1106.2 1736.3 1104.2 1737.5 1102.2 1738.7 1100.1 1739.9 1098.1 1741.1 1096.0 1742.2 1093.9 1743.4 1091.9 1744.6 1089.8 1745.8 1087.7 1746.9 1085.5 1748.1 1083.4 1749.3 1081.3 1750.4 1079.2 1751.6 1077.0 1752.8 1074.9 1754.0 1072.7 1755.2 1070.5 1756.4 1068.4 1757.7 1066.2 1758.9 1064.0 1760.2 1061.9 1761.5 1059.7 1762.8 1057.5 1764.1 1055.3 1765.4 1053.2 1766.8 1051.0 1768.2 1048.8 1769.6 1046.6 1771.0 1044.5 1772.4 1042.3 1773.9 1040.1 1775.4 1038.0 1776.9 1035.8 1778.4 1033.7 1780.0 1031.5 1781.5 1029.4 1783.1 1027.2 1784.7 1025.1 1786.3 1023.0 1788.0 1020.9 1789.6 1018.8 1791.3 1016.7 1793.0 1014.6 1794.7 1012.6 1796.4 1010.5 1798.2 1008.5 1799.9 1006.4 1801.7 1004.4 1803.5 1002.4 1805.3 1000.4 1807.1 998.4 1808.9 996.5 1810.8 994.6 1812.7 992.6 1814.5 990.7 1816.4 988.8 1818.3 987.0 1820.3 985.1 1822.2 983.3 1824.1 981.5 1826.1 979.7 1828.1 978.0 1830.1 976.2 1832.1 974.5 1834.1 972.8 1836.1 971.1 1838.1 969.5 1840.2 967.9 1842.2 966.3 1844.3 964.7 1846.4 963.2 1848.4 961.7 1850.5 960.2 1852.6 958.8 1854.8 957.3 1856.9 955.9 1859.0 954.6 1861.2 953.3 1863.3 952.0 1865.5 950.7 1867.6 949.5 1869.8 948.3 1872.0 947.1 1874.2 946.0 1876.4 944.9 1878.6 943.9 1880.8 942.9 1883.0 941.9 1885.2 941.0 1887.4 940.1 1889.6 939.2 1891.9 938.4 1894.1 937.6 1896.4 936.9 1898.6 936.2 1900.9 935.5 1903.1 934.9 1905.4 934.4 1907.6 933.9 1909.9 933.4 1912.2 933.0 1914.4 932.6 1916.7 932.2 1919.0 932.0 1921.2 931.7 1923.5 931.5 1925.8 931.4 1928.1 931.3 1930.4 931.3 1932.6 931.3 1934.9 931.3 1937.2 931.5 1939.5 931.6 1941.8 931.9 1944.0 932.1 1946.3 932.5 1948.6 932.9 1950.9 933.3 1953.1 933.8 1955.4 934.4 1957.7 935.0 1959.9 935.6 1962.2 936.4 1964.4 937.2 1966.7 938.0 1969.0 938.9 1971.2 939.8 1973.5 940.8 1975.7 941.9 1977.9 943.0 1980.2 944.1 1982.4 945.3 1984.7 946.5 1986.9 947.8 1989.1 949.1 1991.3 950.4 1993.6 951.8 1995.8 953.2 1998.0 954.6 2000.2 956.1 2002.4 957.5 2004.7 959.1 2006.9 960.6 2009.1 962.2 2011.3 963.8 2013.5 965.4 2015.7 967.0 2017.9 968.6 2020.1 970.3 2022.3 971.9 2024.5 973.6 2026.6 975.3 2028.8 977.0 2031.0 978.7 2033.2 980.4 2035.4 982.2 2037.6 983.9 2039.7 985.6 2041.9 987.3 2044.1 989.0 2046.3 990.7 2048.4 992.4 2050.6 994.1 2052.8 995.8 2054.9 997.5 2057.1 999.1 2059.2 1000.8 2061.4 1002.4 2063.5 1004.0 2065.7 1005.6 2067.8 1007.2 2070.0 1008.7 2072.1 1010.3 2074.3 1011.8 2076.4 1013.2 2078.6 1014.7 2080.7 1016.1 2082.8 1017.5 2085.0 1018.8 2087.1 1020.1 2089.3 1021.4 2091.4 1022.6 2093.5 1023.8 2095.6 1025.0 2097.8 1026.1 2099.9 1027.1 2102.0 1028.1 2104.1 1029.1 2106.3 1030.0 2108.4 1030.9 2110.5 1031.7 2112.6 1032.4 2114.7 1033.1 2116.8 1033.8 2118.9 1034.3 2121.1 1034.9 2123.2 1035.3 2125.3 1035.7 2127.4 1036.0 2129.5 1036.3 2131.6 1036.4 2133.7 1036.5 2135.8 1036.6 2137.9 1036.5 2140.0 1036.4 2142.1 1036.2 2144.2 1035.9 2146.3 1035.6 2148.3 1035.1 2150.4 1034.6 2152.5 1034.0 2154.6 1033.4 2156.7 1032.6 2158.7 1031.8 2160.8 1030.9 2162.8 1030.0 2164.8 1029.0 2166.9 1027.9 2168.9 1026.7 2170.8 1025.5 2172.8 1024.2 2174.8 1022.9 2176.7 1021.5 2178.6 1020.1 2180.5 1018.6 2182.3 1017.0 2184.2 1015.4 2186.0 1013.8 2187.8 1012.1 2189.6 1010.3 2191.3 1008.5 2193.0 1006.7 2194.7 1004.8 2196.3 1002.9 2197.9 1001.0 2199.5 999.0 2201.0 997.0 2202.5 994.9 2204.0 992.8 2205.4 990.7 2206.8 988.5 2208.1 986.4 2209.4 984.2 2210.7 981.9 2211.9 979.7 2213.0 977.4 2214.2 975.1 2215.3 972.8 2216.3 970.5 2217.3 968.1 2218.3 965.8 2219.2 963.4 2220.2 961.0 2221.1 958.6 2221.9 956.1 2222.7 953.7 2223.6 951.3 2224.3 948.8 2225.1 946.3 2225.8 943.8 2226.6 941.3 2227.3 938.8 2228.0 936.3 2228.6 933.8 2229.3 931.3 2230.0 928.8 2230.6 926.3 2231.3 923.7 2231.9 921.2 2232.5 918.7 2233.2 916.2 2233.8 913.6 2234.4 911.1 2235.0 908.6 2235.7 906.1 2236.3 903.6 2237.0 901.1 2237.6 898.6 2238.3 896.1 2239.0 893.6 2239.6 891.2 2240.3 888.7 2241.0 886.2 2241.8 883.8 2242.5 881.3 2243.2 878.9 2244.0 876.5 2244.7 874.1 2245.5 871.7 2246.2 869.3 2247.0 866.9 2247.8 864.5 2248.6 862.1 2249.4 859.7 2250.2 857.3 2251.0 854.9 2251.9 852.6 2252.7 850.2 2253.6 847.9 2254.4 845.5 2255.3 843.2 2256.1 840.8 2257.0 838.5 2257.9 836.2 2258.8 833.8 2259.7 831.5 2260.6 829.2 2261.5 826.9 2262.4 824.6 2263.3 822.3 2264.2 820.0 2265.1 817.7 2266.1 815.4 2267.0 813.1 2267.9 810.8 2268.9 808.5 2269.8 806.2 2270.8 803.9 2271.8 801.7 2272.7 799.4 2273.7 797.1 2274.7 794.8 2275.6 792.6 2276.6 790.3 2277.6 788.0 2278.6 785.8 2279.6 783.5 2280.6 781.2 2281.6 779.0 2282.6 776.7 2283.6 774.4 2284.6 772.2 2285.6 769.9 2286.6 767.7 2287.6 765.4 2288.6 763.1 2289.6 760.9 2290.7 758.6 2291.7 756.3 2292.7 754.1 2293.7 751.8 2294.7 749.5 2295.8 747.3 2296.8 745.0 2297.8 742.7 2298.8 740.5 2299.9 738.2 2300.9 735.9 2301.9 733.6 2302.9 731.4 2304.0 729.1 2305.0 726.8 2306.1 724.5 2307.1 722.3 2308.1 720.0 2309.2 717.7 2310.2 715.4 2311.3 713.2 2312.3 710.9 2313.4 708.6 2314.5 706.4 2315.5 704.1 2316.6 701.8 2317.7 699.6 2318.7 697.3 2319.8 695.0 2320.9 692.8 2322.0 690.5 2323.1 688.3 2324.2 686.0 2325.3 683.8 2326.4 681.5 2327.6 679.3 2328.7 677.0 2329.8 674.8 2330.9 672.6 2332.1 670.3 2333.2 668.1 2334.4 665.9 2335.6 663.7 2336.7 661.5 2337.9 659.2 2339.1 657.0 2340.3 654.8 2341.5 652.6 2342.7 650.4 2343.9 648.3 2345.1 646.1 2346.4 643.9 2347.6 641.7 2348.9 639.6 2350.1 637.4 2351.4 635.3 2352.7 633.1 2354.0 631.0 2355.3 628.8 2356.6 626.7 2357.9 624.6 2359.2 622.5 2360.5 620.3 2361.9 618.2 2363.3 616.1 2364.6 614.1 2366.0 612.0 2367.4 609.9 2368.8 607.8 2370.2 605.8 2371.6 603.7 2373.1 601.7 2374.5 599.6 2376.0 597.6 2377.4 595.6 2378.9 593.6 2380.4 591.6 2381.9 589.6 2383.5 587.6 2385.0 585.6 2386.6 583.7 2388.1 581.7 2389.7 579.8 2391.3 577.9 2392.9 575.9 2394.5 574.0 2396.1 572.1 2397.8 570.2 2399.4 568.3 2401.1 566.5 2402.8 564.6" fill="none" stroke="#f6c7a8" stroke-width="6.5" stroke-linejoin="round" stroke-linecap="round"/>
<path d="M429.3 1122.8 431.5 1120.2 433.7 1125.8 436.0 1118.4 438.3 1123.6 440.7 1121.2 443.0 1117.3 445.4 1122.4 447.8 1116.6 450.2 1121.2 452.7 1116.7 455.1 1116.8 457.6 1120.8 460.1 1125.6 462.6 1117.1 465.1 1118.4 467.7 1123.2 470.2 1127.2 472.8 1122.8 475.4 1120.7 478.0 1127.8 480.6 1116.8 483.2 1126.7 485.8 1120.1 488.5 1118.5 491.1 1118.4 493.7 1120.8 496.4 1127.1 499.0 1119.7 501.7 1124.7 504.3 1125.6 507.0 1122.6 509.6 1124.9 512.3 1119.2 514.9 1119.4 517.5 1121.3 520.2 1127.1 522.8 1124.2 525.4 1123.0 528.1 1126.4 530.7 1124.9 533.3 1123.1 535.9 1129.1 538.5 1127.9 541.0 1122.5 543.6 1126.4 546.1 1125.8 548.7 1129.9 551.2 1128.0 553.7 1122.5 556.2 1130.6 558.6 1120.0 561.1 1123.3 563.5 1127.1 565.9 1119.4 568.3 1123.1 570.7 1117.2 573.0 1124.2 575.3 1124.8 577.6 1121.9 579.8 1124.8 582.1 1117.4 584.3 1121.2 586.4 1119.1 588.6 1118.0 590.7 1115.7 592.8 1117.7 594.8 1117.5 596.9 1112.5 598.9 1112.9 600.8 1106.8 602.8 1110.6 604.7 1108.8 606.6 1110.1 608.4 1107.3 610.3 1101.5 612.1 1100.7 613.9 1101.4 615.6 1094.6 617.4 1096.5 619.1 1092.4 620.8 1090.3 622.4 1088.0 624.1 1091.9 625.7 1084.9 627.3 1084.0 628.9 1083.3 630.4 1085.2 632.0 1077.0 633.5 1078.0 635.0 1076.8 636.5 1077.5 638.0 1075.0 639.4 1073.3 640.8 1067.3 642.3 1065.9 643.7 1063.6 645.0 1064.1 646.4 1062.4 647.8 1056.4 649.1 1054.5 650.4 1052.7 651.7 1050.6 653.0 1049.7 654.3 1048.0 655.6 1044.3 656.8 1041.0 658.0 1040.8 659.3 1038.4 660.5 1037.2 661.6 1036.9 662.8 1033.5 664.0 1030.4 665.1 1028.7 666.3 1026.8 667.4 1021.6 668.5 1023.5 669.6 1020.7 670.7 1018.9 671.8 1016.3 672.8 1012.1 673.9 1009.9 674.9 1006.2 675.9 1006.5 677.0 1001.5 678.0 999.3 679.0 997.7 679.9 995.2 680.9 993.7 681.9 990.0 682.8 987.5 683.8 985.9 684.7 983.4 685.6 982.3 686.5 978.4 687.4 980.1 688.3 976.5 689.2 972.0 690.1 970.1 691.0 968.2 691.8 966.0 692.7 962.4 693.5 963.6 694.4 961.9 695.2 957.0 696.0 954.7 696.8 950.4 697.6 948.1 698.4 946.9 699.2 944.2 700.0 944.5 700.8 938.9 701.6 935.8 702.3 937.9 703.1 933.5 703.9 929.2 704.6 928.7 705.4 923.9 706.1 923.9 706.8 923.6 707.6 920.7 708.3 917.4 709.0 912.9 709.7 911.0 710.5 907.7 711.2 908.1 711.9 904.6 712.6 903.3 713.3 898.8 714.0 895.8 714.7 896.2 715.4 894.6 716.1 891.6 716.7 888.9 717.4 886.6 718.1 883.8 718.8 878.9 719.4 877.8 720.1 874.6 720.8 870.6 721.4 868.2 722.1 867.0 722.7 864.4 723.4 864.1 724.0 862.9 724.7 858.0 725.3 857.9 725.9 855.7 726.6 853.1 727.2 847.9 727.8 844.7 728.5 842.3 729.1 839.7 729.7 837.3 730.3 836.9 730.9 835.8 731.6 833.1 732.2 828.9 732.8 827.3 733.4 825.5 734.0 819.6 734.6 820.0 735.2 818.7 735.8 815.7 736.4 813.1 737.0 809.3 737.6 805.4 738.2 805.9 738.7 801.3 739.3 801.1 739.9 799.4 740.5 794.2 741.1 791.8 741.7 792.0 742.2 788.5 742.8 783.4 743.4 780.7 743.9 778.4 744.5 779.5 745.1 776.6 745.7 771.0 746.2 771.8 746.8 770.1 747.3 766.1 747.9 762.2 748.5 760.7 749.0 756.3 749.6 753.3 750.1 755.4 750.7 751.4 751.3 748.4 751.8 747.9 752.4 743.1 752.9 742.7 753.5 740.1 754.0 734.7 754.6 732.4 755.1 730.2 755.7 727.5 756.2 726.7 756.8 722.7 757.3 721.0 757.9 717.2 758.4 718.5 758.9 713.4 759.5 711.5 760.0 709.7 760.6 708.8 761.1 704.0 761.7 704.0 762.2 699.6 762.8 697.3 763.3 694.8 763.9 690.0 764.4 689.6 764.9 685.9 765.5 682.6 766.0 684.0 766.6 678.6 767.1 677.7 767.7 676.4 768.2 673.2 768.8 669.7 769.3 668.2 769.9 666.0 770.4 664.7 771.0 659.0 771.5 658.8 772.1 654.9 772.6 652.6 773.2 652.6 773.7 648.9 774.3 646.8 774.8 645.4 775.4 643.7 775.9 639.1 776.5 637.5 777.1 634.6 777.6 632.2 778.2 630.7 778.7 627.2 779.3 625.2 779.9 622.6 780.4 622.4 781.0 618.9 781.6 617.3 782.1 615.3 782.7 609.6 783.3 608.7 783.9 608.2 784.4 605.3 785.0 599.6 785.6 597.2 786.2 596.3 786.7 592.2 787.3 590.6 787.9 587.5 788.5 588.0 789.1 586.2 789.6 584.3 790.2 578.4 790.8 578.7 791.4 576.1 792.0 571.3 792.6 572.4 793.1 570.5 793.7 564.5 794.3 565.7 794.9 560.7 795.5 558.7 796.1 558.8 796.7 555.6 797.2 550.1 797.8 549.0 798.4 547.0 799.0 543.8 799.6 540.7 800.2 538.9 800.8 538.5 801.4 532.8 802.0 532.9 802.6 530.0 803.1 525.6 803.7 524.7 804.3 523.7 804.9 520.8 805.5 516.3 806.1 518.3 806.7 514.9 807.3 513.4 807.9 506.9 808.5 505.2 809.0 501.7 809.6 502.9 810.2 498.0 810.8 494.9 811.4 493.9 812.0 493.8 812.6 490.9 813.2 485.8 813.7 482.8 814.3 484.1 814.9 480.0 815.5 478.2 816.1 472.8 816.7 470.2 817.3 470.7 817.8 467.0 818.4 462.8 819.0 464.5 819.6 460.6 820.2 458.9 820.7 453.0 821.3 454.2 821.9 447.9 822.5 449.2 823.0 444.7 823.6 441.7 824.2 440.2 824.8 439.4 825.3 433.7 825.9 430.5 826.5 429.9 827.1 426.0 827.6 422.8 828.2 420.5 828.8 417.4 829.3 415.5 829.9 413.5 830.4 410.9 831.0 410.5 831.6 405.6 832.1 404.0 832.7 399.9 833.2 398.1 833.8 393.9 834.4 392.3 834.9 388.6 835.5 389.4 836.0 385.9 836.6 381.5 837.2 380.3 837.8 379.8 838.4 373.2 839.0 374.0 839.6 369.6 840.2 367.2 840.8 366.3 841.5 361.5 842.1 359.5 842.8 357.8 843.4 356.6 844.1 351.0 844.8 350.8 845.5 347.6 846.3 344.8 847.0 341.1 847.8 338.4 848.6 334.5 849.4 332.3 850.2 329.6 851.1 330.4 851.9 325.6 852.8 322.8 853.7 320.0 854.7 321.3 855.7 319.1 856.6 315.9 857.7 311.7 858.7 309.3 859.8 307.3 860.9 305.9 862.0 302.2 863.2 301.5 864.4 298.5 865.6 299.7 866.8 297.7 868.1 293.6 869.5 290.2 870.8 291.7 872.2 286.6 873.7 285.0 875.1 281.4 876.6 281.4 878.2 280.1 879.8 278.5 881.4 275.3 883.1 275.1 884.8 271.1 886.5 270.8 888.3 268.4 890.1 268.4 892.0 265.3 893.9 263.8 895.8 263.8 897.7 262.2 899.7 262.7 901.7 261.2 903.7 261.2 905.7 259.7 907.8 259.0 909.9 258.9 912.0 255.7 914.1 254.6 916.2 257.1 918.4 252.4 920.5 254.6 922.7 253.8 924.9 250.5 927.1 254.0 929.3 254.0 931.5 252.5 933.7 253.0 935.9 253.3 938.1 250.2 940.3 252.2 942.5 252.4 944.7 254.3 946.8 254.6 949.0 255.3 951.2 254.8 953.4 257.0 955.5 256.8 957.6 257.7 959.8 256.5 961.9 256.6 964.0 258.3 966.0 260.6 968.1 260.6 970.1 265.5 972.1 265.6 974.1 267.4 976.0 268.9 977.9 270.8 979.8 271.5 981.7 270.9 983.5 276.5 985.2 278.0 987.0 278.6 988.7 280.7 990.3 283.2 992.0 282.2 993.5 287.4 995.1 287.1 996.6 288.2 998.0 291.2 999.4 295.4 1000.8 295.0 1002.2 299.7 1003.5 302.9 1004.7 302.8 1006.0 304.4 1007.2 307.1 1008.3 310.3 1009.5 312.9 1010.6 314.4 1011.7 316.8 1012.7 316.4 1013.7 319.0 1014.7 321.9 1015.7 326.6 1016.7 326.8 1017.6 330.5 1018.5 330.2 1019.4 332.8 1020.2 336.2 1021.1 340.6 1021.9 343.1 1022.7 345.5 1023.5 346.1 1024.2 349.6 1025.0 351.8 1025.7 354.3 1026.4 355.1 1027.2 361.3 1027.9 360.5 1028.6 366.8 1029.2 369.1 1029.9 367.2 1030.6 371.8 1031.2 376.0 1031.9 379.3 1032.6 379.3 1033.2 381.0 1033.8 383.2 1034.5 389.3 1035.1 388.2 1035.8 392.5 1036.4 392.9 1037.1 397.3 1037.7 401.9 1038.4 400.4 1039.0 406.2 1039.7 407.2 1040.4 411.5 1041.0 413.1 1041.7 413.3 1042.4 419.0 1043.1 419.5 1043.8 419.7 1044.5 422.0 1045.2 426.8 1045.9 429.1 1046.7 430.8 1047.4 432.4 1048.1 435.8 1048.9 438.1 1049.6 443.0 1050.3 441.4 1051.1 447.4 1051.8 450.3 1052.6 449.2 1053.3 455.5 1054.1 456.8 1054.8 460.1 1055.6 459.6 1056.4 462.3 1057.1 464.8 1057.9 470.1 1058.7 470.5 1059.5 471.8 1060.2 474.4 1061.0 476.1 1061.8 477.3 1062.6 480.0 1063.4 485.8 1064.1 485.5 1064.9 491.0 1065.7 490.1 1066.5 492.5 1067.3 496.0 1068.1 496.8 1068.9 500.0 1069.6 505.2 1070.4 507.2 1071.2 509.1 1072.0 510.6 1072.8 514.3 1073.6 516.8 1074.3 517.2 1075.1 520.4 1075.9 519.5 1076.7 525.1 1077.4 526.1 1078.2 529.9 1079.0 531.7 1079.8 532.3 1080.5 533.5 1081.3 540.1 1082.0 538.6 1082.8 542.6 1083.6 544.3 1084.3 546.4 1085.1 550.9 1085.8 554.3 1086.5 553.3 1087.3 557.5 1088.0 558.1 1088.7 561.7 1089.5 563.3 1090.2 564.6 1090.9 566.9 1091.6 569.5 1092.3 575.2 1093.0 575.6 1093.7 576.6 1094.4 582.3 1095.1 585.1 1095.8 584.8 1096.5 585.7 1097.1 588.4 1097.8 590.2 1098.5 593.8 1099.2 595.0 1099.8 598.1 1100.5 600.6 1101.1 604.4 1101.8 608.4 1102.5 610.1 1103.1 610.9 1103.8 613.3 1104.4 616.2 1105.0 617.9 1105.7 620.1 1106.3 621.1 1107.0 624.6 1107.6 630.3 1108.2 628.7 1108.9 632.9 1109.5 635.9 1110.1 639.4 1110.7 638.7 1111.3 641.4 1112.0 643.7 1112.6 646.8 1113.2 649.4 1113.8 654.3 1114.4 656.2 1115.0 658.7 1115.6 657.1 1116.3 659.5 1116.9 665.2 1117.5 668.5 1118.1 668.9 1118.7 671.9 1119.3 671.5 1119.9 675.8 1120.5 680.7 1121.1 682.7 1121.7 685.2 1122.3 688.2 1122.9 687.2 1123.5 688.9 1124.0 691.6 1124.6 695.8 1125.2 699.0 1125.8 702.6 1126.4 704.0 1127.0 706.1 1127.6 709.1 1128.2 710.0 1128.8 712.9 1129.4 712.9 1130.0 718.9 1130.6 718.7 1131.2 724.4 1131.8 725.5 1132.4 726.3 1133.0 727.9 1133.6 730.9 1134.2 735.2 1134.8 737.9 1135.4 737.5 1136.0 739.7 1136.6 744.3 1137.2 747.1 1137.8 748.6 1138.4 750.2 1139.0 754.4 1139.6 754.0 1140.2 757.9 1140.8 761.1 1141.4 765.9 1142.0 766.8 1142.7 770.4 1143.3 770.8 1143.9 772.1 1144.5 774.6 1145.1 780.4 1145.8 781.6 1146.4 782.2 1147.0 783.2 1147.6 787.9 1148.3 791.2 1148.9 792.4 1149.6 794.0 1150.2 798.4 1150.8 802.1 1151.5 801.2 1152.1 802.7 1152.8 806.5 1153.4 809.3 1154.1 813.0 1154.8 813.1 1155.4 818.4 1156.1 820.5 1156.8 821.8 1157.4 822.8 1158.1 828.9 1158.8 828.1 1159.5 833.0 1160.2 832.6 1160.9 834.9 1161.6 839.9 1162.3 840.1 1163.0 845.7 1163.7 845.9 1164.4 846.8 1165.1 849.4 1165.8 852.7 1166.5 856.3 1167.3 860.0 1168.0 858.6 1168.7 862.2 1169.5 863.7 1170.2 869.7 1171.0 868.1 1171.7 870.1 1172.5 872.5 1173.3 876.5 1174.0 881.3 1174.8 883.6 1175.6 885.3 1176.4 888.9 1177.2 891.0 1178.0 890.5 1178.8 892.2 1179.6 898.1 1180.4 899.6 1181.2 898.5 1182.0 903.9 1182.9 904.9 1183.7 907.3 1184.5 909.4 1185.4 911.0 1186.2 912.6 1187.1 916.2 1188.0 918.9 1188.8 924.2 1189.7 922.5 1190.6 928.9 1191.5 927.6 1192.4 930.7 1193.3 935.3 1194.2 937.6 1195.1 938.1 1196.0 938.5 1197.0 942.9 1197.9 944.8 1198.9 949.7 1199.8 948.5 1200.8 951.7 1201.7 956.6 1202.7 954.7 1203.7 958.9 1204.7 963.1 1205.7 965.2 1206.7 964.0 1207.7 966.3 1208.7 968.7 1209.7 975.1 1210.8 974.2 1211.8 978.9 1212.9 981.9 1213.9 981.5 1215.0 983.4 1216.1 989.0 1217.1 989.7 1218.2 990.2 1219.3 994.7 1220.4 995.0 1221.6 997.1 1222.7 998.1 1223.8 1003.9 1225.0 1006.9 1226.1 1007.8 1227.3 1011.6 1228.4 1009.4 1229.6 1012.7 1230.8 1016.1 1232.0 1020.6 1233.2 1022.8 1234.4 1022.3 1235.7 1023.9 1236.9 1027.0 1238.1 1029.5 1239.4 1033.8 1240.6 1032.4 1241.9 1037.6 1243.2 1039.5 1244.5 1042.1 1245.8 1044.0 1247.1 1045.4 1248.4 1046.2 1249.8 1048.4 1251.1 1050.7 1252.5 1054.9 1253.8 1053.7 1255.2 1056.4 1256.6 1061.2 1258.0 1060.8 1259.4 1062.1 1260.8 1064.0 1262.2 1068.6 1263.7 1069.6 1265.1 1074.8 1266.6 1076.4 1268.0 1078.9 1269.5 1077.5 1271.0 1078.7 1272.5 1080.7 1274.0 1084.7 1275.5 1087.7 1277.1 1088.4 1278.6 1089.3 1280.2 1092.1 1281.7 1095.1 1283.3 1097.2 1284.9 1099.5 1286.5 1101.9 1288.1 1102.9 1289.8 1102.1 1291.4 1107.4 1293.1 1106.6 1294.7 1109.8 1296.4 1110.6 1298.1 1114.2 1299.8 1113.4 1301.5 1115.4 1303.2 1117.1 1304.9 1118.4 1306.7 1123.6 1308.4 1123.8 1310.2 1124.2 1312.0 1126.2 1313.8 1130.7 1315.6 1130.0 1317.4 1130.3 1319.3 1134.6 1321.1 1135.4 1323.0 1138.5 1324.9 1135.8 1326.7 1139.1 1328.6 1142.2 1330.6 1143.7 1332.5 1145.5 1334.4 1142.7 1336.4 1145.3 1338.3 1145.8 1340.3 1147.5 1342.3 1152.6 1344.3 1152.0 1346.3 1154.9 1348.4 1153.5 1350.4 1157.1 1352.5 1156.2 1354.6 1156.5 1356.6 1160.1 1358.7 1162.1 1360.9 1159.1 1363.0 1162.5 1365.1 1163.7 1367.3 1162.8 1369.5 1164.5 1371.7 1164.3 1373.9 1165.6 1376.1 1166.7 1378.3 1169.2 1380.6 1170.3 1382.8 1169.0 1385.1 1168.8 1387.4 1171.1 1389.7 1173.5 1392.0 1171.9 1394.3 1173.1 1396.7 1173.2 1399.1 1176.7 1401.4 1176.1 1403.8 1174.3 1406.2 1175.0 1408.7 1176.9 1411.1 1178.1 1413.6 1178.9 1416.0 1176.7 1418.5 1177.4 1421.0 1180.2 1423.5 1179.2 1426.1 1178.8 1428.6 1179.1 1431.2 1182.4 1433.8 1179.5 1436.4 1180.8 1439.0 1179.9 1441.6 1180.2 1444.3 1182.4 1446.9 1183.0 1449.6 1179.9 1452.3 1178.9 1455.0 1181.4 1457.7 1178.7 1460.5 1177.5 1463.2 1181.5 1466.0 1178.9 1468.8 1180.5 1471.6 1178.2 1474.5 1180.0 1477.3 1177.6 1480.2 1175.6 1483.0 1174.4 1485.9 1176.4" fill="none" stroke="#8f1242" stroke-width="7.5" stroke-linejoin="round" stroke-linecap="round"/>
<text class="t" x="273" y="1199.0" font-size="62" text-anchor="end">0.0</text>
<text class="t" x="273" y="1011.8" font-size="62" text-anchor="end">0.2</text>
<text class="t" x="273" y="824.5" font-size="62" text-anchor="end">0.4</text>
<text class="t" x="273" y="637.2" font-size="62" text-anchor="end">0.6</text>
<text class="t" x="273" y="450.0" font-size="62" text-anchor="end">0.8</text>
<text class="t" x="273" y="262.8" font-size="62" text-anchor="end">1.0</text>
<text class="t" x="273" y="75.5" font-size="62" text-anchor="end">1.2</text>
<text class="t" x="323.0" y="1272.5" font-size="62" text-anchor="middle">3.4</text>
<text class="t" x="694.0" y="1272.5" font-size="62" text-anchor="middle">3.9</text>
<text class="t" x="1065.0" y="1272.5" font-size="62" text-anchor="middle">4.4</text>
<text class="t" x="1436.0" y="1272.5" font-size="62" text-anchor="middle">4.9</text>
<text class="t" x="1807.0" y="1272.5" font-size="62" text-anchor="middle">5.4</text>
<text class="t" x="2178.0" y="1272.5" font-size="62" text-anchor="middle">5.9</text>
<line x1="1828" y1="113.9" x2="1931" y2="113.9" stroke="#8395b0" stroke-width="7.5"/>
<line x1="1828" y1="211.5" x2="1931" y2="211.5" stroke="#d5b2fb" stroke-width="7.5"/>
<line x1="1828" y1="309.0" x2="1931" y2="309.0" stroke="#8f1242" stroke-width="8"/>
<line x1="1828" y1="409.8" x2="1931" y2="409.8" stroke="#f6c7a8" stroke-width="7.5"/>
<g stroke="#0a0a0a" fill="none">
<path d="M320.85 1423.00 H2406.50" stroke-width="4.4"/><path d="M323.00 1420.80 V2545.10" stroke-width="4.3"/><path d="M2404.50 1420.80 V2545.10" stroke-width="4.0"/><path d="M320.85 2543.00 H2406.50" stroke-width="4.2"/>
<line x1="303" y1="2543.0" x2="323.0" y2="2543.0" stroke-width="4.5"/>
<line x1="303" y1="2356.3" x2="323.0" y2="2356.3" stroke-width="4.5"/>
<line x1="303" y1="2169.7" x2="323.0" y2="2169.7" stroke-width="4.5"/>
<line x1="303" y1="1983.0" x2="323.0" y2="1983.0" stroke-width="4.5"/>
<line x1="303" y1="1796.3" x2="323.0" y2="1796.3" stroke-width="4.5"/>
<line x1="303" y1="1609.7" x2="323.0" y2="1609.7" stroke-width="4.5"/>
<line x1="303" y1="1423.0" x2="323.0" y2="1423.0" stroke-width="4.5"/>
<line x1="323.0" y1="2543.0" x2="323.0" y2="2563" stroke-width="4.5"/>
<line x1="756.1" y1="2543.0" x2="756.1" y2="2563" stroke-width="4.5"/>
<line x1="1189.2" y1="2543.0" x2="1189.2" y2="2563" stroke-width="4.5"/>
<line x1="1622.4" y1="2543.0" x2="1622.4" y2="2563" stroke-width="4.5"/>
<line x1="2055.5" y1="2543.0" x2="2055.5" y2="2563" stroke-width="4.5"/>
</g>
<path d="M1235.4 2505.0 1238.2 2506.0 1241.0 2506.9 1243.7 2507.6 1246.5 2508.2 1249.1 2508.8 1251.8 2509.2 1254.4 2509.4 1257.0 2509.6 1259.6 2509.7 1262.1 2509.7 1264.6 2509.6 1267.1 2509.4 1269.6 2509.1 1272.1 2508.7 1274.5 2508.3 1276.9 2507.7 1279.3 2507.1 1281.7 2506.5 1284.0 2505.7 1286.4 2504.9 1288.7 2504.1 1291.0 2503.2 1293.3 2502.2 1295.6 2501.2 1297.9 2500.2 1300.1 2499.1 1302.4 2498.0 1304.6 2496.9 1306.8 2495.7 1309.1 2494.5 1311.3 2493.3 1313.5 2492.1 1315.7 2490.9 1317.9 2489.6 1320.2 2488.4 1322.4 2487.1 1324.6 2485.9 1326.8 2484.7 1329.0 2483.4 1331.2 2482.2 1333.4 2481.1 1335.6 2479.9 1337.9 2478.8 1340.1 2477.6 1342.3 2476.6 1344.6 2475.5 1346.9 2474.5 1349.1 2473.6 1351.4 2472.7 1353.7 2471.8 1356.0 2471.1 1358.3 2470.3 1360.6 2469.7 1363.0 2469.1 1365.4 2468.5 1367.7 2468.1 1370.1 2467.7 1372.6 2467.4 1375.0 2467.2 1377.4 2467.0 1379.9 2466.8 1382.4 2466.7 1384.8 2466.7 1387.3 2466.7 1389.8 2466.8 1392.3 2466.8 1394.8 2466.9 1397.3 2467.0 1399.8 2467.2 1402.3 2467.3 1404.9 2467.5 1407.4 2467.7 1409.9 2467.9 1412.4 2468.0 1414.9 2468.2 1417.4 2468.3 1419.9 2468.5 1422.4 2468.6 1424.8 2468.7 1427.3 2468.7 1429.7 2468.7 1432.2 2468.7 1434.6 2468.7 1437.0 2468.5 1439.4 2468.4 1441.8 2468.2 1444.2 2467.9 1446.5 2467.5 1448.8 2467.1 1451.1 2466.6 1453.4 2466.1 1455.7 2465.4 1457.9 2464.7 1460.1 2463.8 1462.3 2462.9 1464.4 2462.0 1466.6 2460.9 1468.7 2459.8 1470.8 2458.6 1472.8 2457.4 1474.9 2456.1 1476.9 2454.7 1479.0 2453.3 1480.9 2451.9 1482.9 2450.4 1484.9 2448.8 1486.8 2447.2 1488.8 2445.6 1490.7 2443.9 1492.6 2442.3 1494.5 2440.5 1496.3 2438.8 1498.2 2437.0 1500.1 2435.3 1501.9 2433.5 1503.7 2431.7 1505.5 2429.8 1507.3 2428.0 1509.1 2426.2 1510.9 2424.4 1512.7 2422.6 1514.5 2420.7 1516.2 2418.9 1518.0 2417.2 1519.8 2415.4 1521.5 2413.6 1523.3 2411.9 1525.1 2410.2 1526.9 2408.6 1528.7 2406.9 1530.6 2405.3 1532.5 2403.8 1534.4 2402.3 1536.3 2400.9 1538.3 2399.5 1540.3 2398.1 1542.4 2396.9 1544.5 2395.6 1546.7 2394.5 1548.9 2393.4 1551.2 2392.4 1553.5 2391.5 1555.9 2390.6 1558.3 2389.8 1560.8 2389.0 1563.3 2388.3 1565.8 2387.6 1568.3 2386.8 1570.8 2386.1 1573.3 2385.4 1575.8 2384.7 1578.3 2383.9 1580.7 2383.1 1583.1 2382.2 1585.5 2381.3 1587.8 2380.4 1590.1 2379.3 1592.3 2378.2 1594.4 2376.9 1596.5 2375.7 1598.5 2374.3 1600.5 2372.9 1602.4 2371.4 1604.3 2369.8 1606.2 2368.2 1608.0 2366.6 1609.7 2364.9 1611.4 2363.1 1613.1 2361.3 1614.8 2359.5 1616.4 2357.6 1618.0 2355.7 1619.6 2353.8 1621.2 2351.9 1622.7 2349.9 1624.2 2347.9 1625.7 2345.9 1627.2 2343.9 1628.7 2341.9 1630.2 2339.9 1631.7 2337.8 1633.1 2335.8 1634.6 2333.8 1636.0 2331.7 1637.5 2329.7 1638.9 2327.6 1640.4 2325.6 1641.8 2323.5 1643.2 2321.5 1644.6 2319.4 1646.0 2317.3 1647.4 2315.3 1648.8 2313.2 1650.2 2311.1 1651.6 2309.0 1653.0 2307.0 1654.3 2304.9 1655.7 2302.8 1657.0 2300.7 1658.4 2298.6 1659.7 2296.5 1661.1 2294.4 1662.4 2292.3 1663.7 2290.2 1665.1 2288.0 1666.4 2285.9 1667.7 2283.8 1669.0 2281.7 1670.3 2279.6 1671.6 2277.4 1672.8 2275.3 1674.1 2273.1 1675.4 2271.0 1676.7 2268.9 1677.9 2266.7 1679.2 2264.6 1680.4 2262.4 1681.7 2260.3 1682.9 2258.1 1684.2 2255.9 1685.4 2253.8 1686.6 2251.6 1687.8 2249.4 1689.0 2247.3 1690.3 2245.1 1691.5 2242.9 1692.7 2240.7 1693.8 2238.5 1695.0 2236.3 1696.2 2234.2 1697.4 2232.0 1698.6 2229.8 1699.7 2227.6 1700.9 2225.4 1702.1 2223.2 1703.2 2220.9 1704.4 2218.7 1705.5 2216.5 1706.6 2214.3 1707.8 2212.1 1708.9 2209.9 1710.0 2207.7 1711.2 2205.4 1712.3 2203.2 1713.4 2201.0 1714.5 2198.7 1715.6 2196.5 1716.7 2194.3 1717.8 2192.0 1718.9 2189.8 1720.0 2187.5 1721.1 2185.3 1722.1 2183.0 1723.2 2180.8 1724.3 2178.5 1725.3 2176.3 1726.4 2174.0 1727.5 2171.8 1728.5 2169.5 1729.6 2167.3 1730.6 2165.0 1731.7 2162.7 1732.7 2160.5 1733.7 2158.2 1734.8 2155.9 1735.8 2153.6 1736.8 2151.4 1737.8 2149.1 1738.8 2146.8 1739.9 2144.5 1740.9 2142.2 1741.9 2139.9 1742.9 2137.7 1743.9 2135.4 1744.9 2133.1 1745.9 2130.8 1746.9 2128.5 1747.8 2126.2 1748.8 2123.9 1749.8 2121.6 1750.8 2119.3 1751.7 2117.0 1752.7 2114.7 1753.7 2112.4 1754.7 2110.1 1755.6 2107.8 1756.6 2105.5 1757.5 2103.2 1758.5 2100.8 1759.4 2098.5 1760.4 2096.2 1761.3 2093.9 1762.3 2091.6 1763.2 2089.3 1764.1 2086.9 1765.1 2084.6 1766.0 2082.3 1766.9 2080.0 1767.9 2077.7 1768.8 2075.3 1769.7 2073.0 1770.6 2070.7 1771.5 2068.4 1772.5 2066.0 1773.4 2063.7 1774.3 2061.4 1775.2 2059.0 1776.1 2056.7 1777.0 2054.4 1777.9 2052.0 1778.8 2049.7 1779.7 2047.4 1780.6 2045.0 1781.5 2042.7 1782.4 2040.3 1783.3 2038.0 1784.2 2035.7 1785.1 2033.3 1785.9 2031.0 1786.8 2028.6 1787.7 2026.3 1788.6 2024.0 1789.5 2021.6 1790.4 2019.3 1791.2 2016.9 1792.1 2014.6 1793.0 2012.2 1793.9 2009.9 1794.7 2007.5 1795.6 2005.2 1796.5 2002.8 1797.3 2000.5 1798.2 1998.1 1799.1 1995.8 1799.9 1993.4 1800.8 1991.1 1801.7 1988.8 1802.5 1986.4 1803.4 1984.1 1804.2 1981.7 1805.1 1979.4 1806.0 1977.0 1806.8 1974.7 1807.7 1972.3 1808.5 1970.0 1809.4 1967.6 1810.3 1965.3 1811.1 1962.9 1812.0 1960.6 1812.8 1958.2 1813.7 1955.9 1814.5 1953.5 1815.4 1951.2 1816.3 1948.8 1817.1 1946.5 1818.0 1944.1 1818.8 1941.8 1819.7 1939.4 1820.5 1937.1 1821.4 1934.7 1822.3 1932.4 1823.1 1930.0 1824.0 1927.7 1824.8 1925.3 1825.7 1923.0 1826.6 1920.6 1827.4 1918.3 1828.3 1916.0 1829.2 1913.6 1830.0 1911.3 1830.9 1908.9 1831.8 1906.6 1832.6 1904.2 1833.5 1901.9 1834.4 1899.6 1835.2 1897.2 1836.1 1894.9 1837.0 1892.6 1837.8 1890.2 1838.7 1887.9 1839.6 1885.5 1840.5 1883.2 1841.4 1880.9 1842.2 1878.5 1843.1 1876.2 1844.0 1873.9 1844.9 1871.5 1845.8 1869.2 1846.7 1866.9 1847.6 1864.6 1848.5 1862.2 1849.4 1859.9 1850.3 1857.6 1851.2 1855.3 1852.1 1852.9 1853.0 1850.6 1853.9 1848.3 1854.8 1846.0 1855.7 1843.7 1856.6 1841.4 1857.5 1839.0 1858.4 1836.7 1859.4 1834.4 1860.3 1832.1 1861.2 1829.8 1862.1 1827.5 1863.1 1825.2 1864.0 1822.9 1864.9 1820.6 1865.9 1818.3 1866.8 1816.0 1867.8 1813.7 1868.7 1811.4 1869.7 1809.1 1870.6 1806.8 1871.6 1804.5 1872.5 1802.2 1873.5 1799.9 1874.5 1797.6 1875.4 1795.4 1876.4 1793.1 1877.4 1790.8 1878.4 1788.5 1879.4 1786.2 1880.3 1784.0 1881.3 1781.7 1882.3 1779.4 1883.3 1777.1 1884.3 1774.9 1885.3 1772.6 1886.3 1770.3 1887.4 1768.1 1888.4 1765.8 1889.4 1763.6 1890.4 1761.3 1891.5 1759.0 1892.5 1756.8 1893.5 1754.5 1894.6 1752.3 1895.6 1750.0 1896.7 1747.8 1897.7 1745.6 1898.8 1743.3 1899.9 1741.1 1900.9 1738.9 1902.0 1736.6 1903.1 1734.4 1904.2 1732.2 1905.3 1729.9 1906.4 1727.7 1907.5 1725.5 1908.6 1723.2 1909.7 1721.0 1910.8 1718.8 1911.9 1716.5 1913.0 1714.3 1914.1 1712.1 1915.3 1709.8 1916.4 1707.6 1917.5 1705.4 1918.7 1703.2 1919.8 1700.9 1921.0 1698.7 1922.1 1696.4 1923.3 1694.2 1924.5 1692.0 1925.6 1689.7 1926.8 1687.5 1928.0 1685.2 1929.2 1683.0 1930.4 1680.7 1931.6 1678.5 1932.8 1676.2 1934.0 1674.0 1935.2 1671.7 1936.4 1669.4 1937.6 1667.2 1938.8 1664.9 1940.0 1662.6 1941.3 1660.3 1942.5 1658.1 1943.8 1655.8 1945.1 1653.6 1946.4 1651.4 1947.8 1649.2 1949.1 1647.0 1950.5 1644.8 1951.9 1642.7 1953.4 1640.6 1954.9 1638.5 1956.4 1636.5 1958.0 1634.5 1959.6 1632.6 1961.3 1630.7 1963.0 1628.9 1964.8 1627.1 1966.6 1625.4 1968.5 1623.7 1970.4 1622.1 1972.5 1620.5 1974.5 1619.1 1976.7 1617.7 1978.9 1616.4 1981.1 1615.1 1983.4 1614.0 1985.7 1613.1 1988.0 1612.2 1990.3 1611.5 1992.6 1610.9 1994.9 1610.4 1997.2 1610.2 1999.5 1610.1 2001.7 1610.2 2003.8 1610.5 2005.9 1611.0 2008.0 1611.7 2009.9 1612.6 2011.8 1613.8 2013.6 1615.0 2015.4 1616.5 2017.1 1618.1 2018.8 1619.8 2020.4 1621.6 2022.0 1623.5 2023.5 1625.5 2025.0 1627.5 2026.4 1629.6 2027.8 1631.7 2029.2 1633.8 2030.5 1636.0 2031.8 1638.1 2033.1 1640.3 2034.3 1642.5 2035.5 1644.7 2036.7 1646.9 2037.8 1649.1 2038.9 1651.3 2040.0 1653.6 2041.1 1655.8 2042.1 1658.1 2043.1 1660.4 2044.1 1662.6 2045.1 1664.9 2046.0 1667.2 2046.9 1669.6 2047.8 1671.9 2048.7 1674.2 2049.5 1676.6 2050.3 1678.9 2051.1 1681.3 2051.9 1683.6 2052.7 1686.0 2053.4 1688.4 2054.1 1690.8 2054.8 1693.2 2055.5 1695.6 2056.2 1698.0 2056.8 1700.4 2057.5 1702.8 2058.1 1705.2 2058.7 1707.7 2059.3 1710.1 2059.9 1712.5 2060.5 1715.0 2061.1 1717.4 2061.6 1719.9 2062.2 1722.4 2062.7 1724.8 2063.2 1727.3 2063.8 1729.7 2064.3 1732.2 2064.8 1734.7 2065.3 1737.2 2065.8 1739.6 2066.3 1742.1 2066.7 1744.6 2067.2 1747.1 2067.7 1749.5 2068.2 1752.0 2068.7 1754.5 2069.1 1757.0 2069.6 1759.5 2070.1 1761.9 2070.6 1764.4 2071.1 1766.9 2071.5 1769.4 2072.0 1771.8 2072.5 1774.3 2073.0 1776.8 2073.5 1779.2 2074.0 1781.7 2074.5 1784.2 2075.0 1786.6 2075.5 1789.1 2076.0 1791.6 2076.5 1794.0 2077.0 1796.5 2077.5 1798.9 2078.0 1801.4 2078.5 1803.8 2079.0 1806.3 2079.5 1808.8 2080.0 1811.2 2080.5 1813.7 2081.0 1816.1 2081.6 1818.6 2082.1 1821.0 2082.6 1823.4 2083.1 1825.9 2083.6 1828.3 2084.2 1830.8 2084.7 1833.2 2085.2 1835.7 2085.7 1838.1 2086.3 1840.5 2086.8 1843.0 2087.3 1845.4 2087.8 1847.9 2088.4 1850.3 2088.9 1852.7 2089.4 1855.2 2090.0 1857.6 2090.5 1860.0 2091.1 1862.5 2091.6 1864.9 2092.1 1867.3 2092.7 1869.8 2093.2 1872.2 2093.8 1874.6 2094.3 1877.1 2094.8 1879.5 2095.4 1881.9 2095.9 1884.4 2096.5 1886.8 2097.0 1889.2 2097.6 1891.7 2098.1 1894.1 2098.6 1896.5 2099.2 1898.9 2099.7 1901.4 2100.3 1903.8 2100.8 1906.2 2101.4 1908.7 2101.9 1911.1 2102.5 1913.5 2103.0 1915.9 2103.6 1918.4 2104.1 1920.8 2104.7 1923.2 2105.2 1925.6 2105.8 1928.1 2106.3 1930.5 2106.9 1932.9 2107.4 1935.4 2108.0 1937.8 2108.5 1940.2 2109.1 1942.6 2109.6 1945.1 2110.1 1947.5 2110.7 1949.9 2111.2 1952.4 2111.8 1954.8 2112.3 1957.2 2112.9 1959.7 2113.4 1962.1 2114.0 1964.5 2114.5 1966.9 2115.1 1969.4 2115.6 1971.8 2116.2 1974.2 2116.7 1976.7 2117.2 1979.1 2117.8 1981.5 2118.3 1984.0 2118.9 1986.4 2119.4 1988.8 2120.0 1991.3 2120.5 1993.7 2121.1 1996.1 2121.6 1998.6 2122.2 2001.0 2122.7 2003.4 2123.2 2005.9 2123.8 2008.3 2124.3 2010.7 2124.9 2013.2 2125.4 2015.6 2126.0 2018.1 2126.5 2020.5 2127.0 2022.9 2127.6 2025.4 2128.1 2027.8 2128.7 2030.2 2129.2 2032.7 2129.8 2035.1 2130.3 2037.5 2130.9 2040.0 2131.4 2042.4 2131.9 2044.9 2132.5 2047.3 2133.0 2049.7 2133.6 2052.2 2134.1 2054.6 2134.7 2057.0 2135.2 2059.5 2135.8 2061.9 2136.3 2064.3 2136.8 2066.8 2137.4 2069.2 2137.9 2071.7 2138.5 2074.1 2139.0 2076.5 2139.6 2079.0 2140.1 2081.4 2140.7 2083.9 2141.2 2086.3 2141.7 2088.7 2142.3 2091.2 2142.8 2093.6 2143.4 2096.0 2143.9 2098.5 2144.5 2100.9 2145.0 2103.4 2145.6 2105.8 2146.1 2108.2 2146.7 2110.7 2147.2 2113.1 2147.8 2115.6 2148.3 2118.0 2148.9 2120.4 2149.4 2122.9 2150.0 2125.3 2150.5 2127.7 2151.0 2130.2 2151.6 2132.6 2152.1 2135.1 2152.7 2137.5 2153.2 2139.9 2153.8 2142.4 2154.3 2144.8 2154.9 2147.3 2155.4 2149.7 2156.0 2152.1 2156.6 2154.6 2157.1 2157.0 2157.7 2159.5 2158.2 2161.9 2158.8 2164.3 2159.3 2166.8 2159.9 2169.2 2160.4 2171.6 2161.0 2174.1 2161.5 2176.5 2162.1 2179.0 2162.6 2181.4 2163.2 2183.8 2163.8 2186.3 2164.3 2188.7 2164.9 2191.1 2165.4 2193.6 2166.0 2196.0 2166.5 2198.5 2167.1 2200.9 2167.7 2203.3 2168.2 2205.8 2168.8 2208.2 2169.3 2210.6 2169.9 2213.1 2170.5 2215.5 2171.0 2218.0 2171.6 2220.4 2172.1 2222.8 2172.7 2225.3 2173.3 2227.7 2173.8 2230.1 2174.4 2232.6 2175.0 2235.0 2175.5 2237.4 2176.1 2239.9 2176.7 2242.3 2177.2 2244.7 2177.8 2247.2 2178.4 2249.6 2178.9 2252.0 2179.5 2254.5 2180.1 2256.9 2180.6 2259.3 2181.2 2261.8 2181.8 2264.2 2182.3 2266.6 2182.9 2269.1 2183.5 2271.5 2184.1 2273.9 2184.6 2276.4 2185.2 2278.8 2185.8 2281.2 2186.4 2283.7 2186.9 2286.1 2187.5 2288.5 2188.1 2291.0 2188.7 2293.4 2189.3 2295.8 2189.8 2298.3 2190.4 2300.7 2191.0 2303.1 2191.6 2305.5 2192.2 2308.0 2192.7 2310.4 2193.3 2312.8 2193.9 2315.3 2194.5 2317.7 2195.1 2320.1 2195.7 2322.5 2196.3 2325.0 2196.8 2327.4 2197.4 2329.8 2198.0 2332.2 2198.6 2334.7 2199.2 2337.1 2199.8 2339.5 2200.4 2341.9 2201.0 2344.4 2201.6 2346.8 2202.2 2349.2 2202.8 2351.6 2203.4 2354.1 2204.0 2356.5 2204.6 2358.9 2205.2 2361.3 2205.8 2363.8 2206.4 2366.2 2207.0 2368.6 2207.6 2371.0 2208.2 2373.4 2208.8 2375.9 2209.4 2378.3 2210.0 2380.7 2210.6 2383.1 2211.2 2385.5 2211.8 2387.9 2212.4 2390.4 2213.0 2392.8 2213.6 2395.2 2214.2 2397.6 2214.9 2400.0 2215.5 2402.4 2216.1 2404.9 2216.7 2407.3 2217.3 2409.7 2217.9 2412.1 2218.6 2414.5 2219.2 2416.9 2219.8 2419.3 2220.4 2421.8 2221.1 2424.2 2221.7 2426.6 2222.3 2429.0 2223.0 2431.4 2223.7 2433.8 2224.4 2436.2 2225.0 2438.6 2225.8 2440.9 2226.5 2443.3 2227.2 2445.7 2228.0 2448.1 2228.7 2450.4 2229.5 2452.8 2230.3 2455.1 2231.2 2457.5 2232.0 2459.8 2232.9 2462.2 2233.8 2464.5 2234.7 2466.8 2235.7 2469.1 2236.7 2471.4 2237.7 2473.7 2238.8 2476.0 2239.8 2478.2 2241.0 2480.5 2242.1 2482.7 2243.3 2485.0 2244.5 2487.2 2245.8 2489.4 2247.1 2491.6 2248.4 2493.8 2249.8 2496.0 2251.2 2498.1 2252.6 2500.2 2254.1 2502.3 2255.6 2504.4 2257.2 2506.4 2258.8 2508.4 2260.5 2510.3 2262.1 2512.2 2263.9 2514.1 2265.6 2515.8 2267.4 2517.6 2269.3 2519.2 2271.2 2520.9 2273.1 2522.4 2275.0 2523.9 2277.1 2525.3 2279.1 2526.6 2281.2 2527.8 2283.3 2529.0 2285.4 2530.1 2287.6 2531.1 2289.9 2532.1 2292.1 2532.9 2294.4 2533.8 2296.7 2534.5 2299.1 2535.2 2301.4 2535.9 2303.8 2536.5 2306.2 2537.0 2308.7 2537.5 2311.1 2537.9 2313.6 2538.3 2316.1 2538.7 2318.6 2539.0 2321.2 2539.2 2323.7 2539.5 2326.2 2539.7 2328.8 2539.8 2331.4 2539.9 2334.0 2540.0 2336.6 2540.1 2339.2 2540.2 2341.8 2540.2 2344.4 2540.2 2347.0 2540.2 2349.6 2540.2 2352.2 2540.1 2354.8 2540.1 2357.4 2540.0 2360.0 2540.0 2362.5 2539.9 2365.1 2539.9 2367.7 2539.8 2370.2 2539.7 2372.8 2539.7 2375.3 2539.6 2377.8 2539.6 2380.3 2539.6 2382.8 2539.6 2385.2 2539.6 2387.7 2539.6 2390.1 2539.6 2392.4 2539.7 2394.8 2539.8 2397.1 2539.9 2399.4 2540.1 2401.7 2540.2 2404.0 2540.5" fill="none" stroke="#8393ae" stroke-width="6" stroke-linejoin="round" stroke-linecap="round"/>
<path d="M640.0 2532.8 643.0 2532.4 646.0 2533.3 649.0 2530.2 652.0 2529.5 655.0 2529.0 658.0 2526.1 661.0 2526.8 664.0 2526.5 667.0 2526.4 670.0 2522.1 673.0 2522.2 676.0 2520.3 679.0 2523.2 682.0 2522.1 685.0 2518.3 688.0 2522.4 691.0 2521.8 694.0 2519.7 697.0 2519.0 700.0 2516.2 703.0 2514.9 706.0 2516.9 709.0 2514.1 712.0 2514.2 715.0 2513.9 718.0 2511.6 721.0 2512.2 724.0 2510.6 727.0 2511.0 730.0 2507.8 733.0 2506.9 736.0 2504.6 739.0 2503.9 742.0 2501.3 745.0 2498.9 748.0 2501.0 751.0 2499.5 754.0 2497.2 757.0 2495.0 760.0 2491.6 763.0 2489.6 766.0 2488.4 769.0 2485.9 772.0 2487.6 775.0 2483.9 778.0 2484.4 781.0 2480.3 784.0 2481.4 787.0 2479.1 790.0 2473.1 793.0 2472.3 796.0 2474.1 799.0 2469.3 802.0 2469.4 805.0 2464.0 808.0 2459.9 811.0 2460.1 814.0 2458.4 817.0 2453.3 820.0 2449.9 823.0 2449.1 826.0 2450.1 829.0 2447.0 832.0 2441.7 835.0 2440.3 838.0 2437.5 841.0 2435.2 844.0 2436.7 847.0 2431.4 850.0 2431.0 853.0 2428.2 856.0 2424.7 859.0 2425.2 862.0 2419.2 865.0 2418.7 868.0 2413.1 871.0 2411.6 874.0 2407.6 877.0 2404.3 880.0 2404.4 883.0 2400.0 886.0 2394.0 889.0 2393.7 892.0 2387.2 895.0 2384.9 898.0 2384.0 901.0 2379.8 904.0 2373.1 907.0 2373.1 910.0 2364.8 913.0 2360.7 916.0 2358.8 919.0 2352.6 922.0 2348.7 925.0 2343.9 928.0 2340.2 931.0 2338.9 934.0 2333.7 937.0 2332.3 940.0 2327.9 943.0 2325.1 946.0 2324.5 949.0 2318.9 952.0 2308.9 955.0 2299.8 958.0 2287.1 961.0 2280.2 964.0 2277.1 967.0 2269.9 970.0 2263.0 973.0 2260.1 976.0 2260.2 979.0 2258.6 982.0 2252.2 985.0 2252.4 988.0 2246.3 991.0 2239.2 994.0 2232.6 997.0 2218.0 1000.0 2204.7 1003.0 2203.0 1006.0 2193.1 1009.0 2189.2 1012.0 2180.9 1015.0 2178.2 1018.0 2171.5 1021.0 2164.4 1024.0 2158.2 1027.0 2154.5 1030.0 2144.3 1033.0 2138.2 1036.0 2135.0 1039.0 2135.4 1042.0 2133.2 1045.0 2130.6 1048.0 2126.9 1051.0 2104.7 1054.0 2094.5 1057.0 2091.2 1060.0 2087.4 1063.0 2080.9 1066.0 2075.9 1069.0 2069.5 1072.0 2063.1 1075.0 2053.5 1078.0 2047.3 1081.0 2041.9 1084.0 2034.2 1087.0 2024.5 1090.0 2018.0 1093.0 2011.4 1096.0 2003.2 1099.0 1996.7 1102.0 1981.6 1105.0 1971.1 1108.0 1970.4 1111.0 1972.1 1114.0 1962.7 1117.0 1951.2 1120.0 1935.8 1123.0 1931.6 1126.0 1928.7 1129.0 1931.3 1132.0 1925.9 1135.0 1914.0 1138.0 1900.8 1141.0 1887.5 1144.0 1874.9 1147.0 1867.9 1150.0 1861.6 1153.0 1855.3 1156.0 1850.4 1159.0 1852.4 1162.0 1853.7 1165.0 1853.9 1168.0 1818.0 1171.0 1795.7 1174.0 1791.0 1177.0 1784.4 1180.0 1779.5 1183.0 1773.1 1186.0 1768.4 1189.0 1762.5 1192.0 1753.9 1195.0 1750.7 1198.0 1746.5 1201.0 1747.4 1204.0 1748.1 1207.0 1744.4 1210.0 1736.8 1213.0 1726.8 1216.0 1716.8 1219.0 1710.2 1222.0 1698.3 1225.0 1693.4 1228.0 1681.6 1231.0 1688.3 1234.0 1691.5 1237.0 1694.1 1240.0 1695.5 1243.0 1684.0 1246.0 1674.1 1249.0 1670.2 1252.0 1664.1 1255.0 1660.1 1258.0 1658.8 1261.0 1657.9 1264.0 1658.5 1267.0 1661.3 1270.0 1668.0 1273.0 1669.8 1276.0 1671.7 1279.0 1668.0 1282.0 1654.6 1285.0 1645.8 1288.0 1633.0 1291.0 1623.7 1294.0 1642.0 1297.0 1659.1 1300.0 1665.8 1303.0 1650.9 1306.0 1639.4 1309.0 1625.7 1312.0 1612.3 1315.0 1610.8 1318.0 1613.8 1321.0 1615.2 1324.0 1615.8 1327.0 1618.3 1330.0 1616.0 1333.0 1616.7 1336.0 1619.2 1339.0 1619.5 1342.0 1620.0 1345.0 1621.6 1348.0 1623.3 1351.0 1623.3 1354.0 1623.1 1357.0 1628.1 1360.0 1631.3 1363.0 1631.1 1366.0 1631.6 1369.0 1633.8 1372.0 1648.2 1375.0 1658.0 1378.0 1675.4 1381.0 1685.4 1384.0 1693.0 1387.0 1704.5 1390.0 1709.6 1393.0 1706.4 1396.0 1704.3 1399.0 1702.4 1402.0 1714.9 1405.0 1720.4 1408.0 1728.4 1411.0 1730.7 1414.0 1733.6 1417.0 1732.7 1420.0 1746.7 1423.0 1759.9 1426.0 1773.8 1429.0 1787.6 1432.0 1790.8 1435.0 1776.0 1438.0 1765.0 1441.0 1769.6 1444.0 1784.2 1447.0 1801.9 1450.0 1807.8 1453.0 1809.8 1456.0 1815.0 1459.0 1820.1 1462.0 1825.3 1465.0 1825.5 1468.0 1827.1 1471.0 1828.9 1474.0 1828.1 1477.0 1837.9 1480.0 1849.7 1483.0 1856.8 1486.0 1872.2 1489.0 1870.2 1492.0 1866.3 1495.0 1867.1 1498.0 1871.8 1501.0 1879.5 1504.0 1883.1 1507.0 1890.3 1510.0 1895.4 1513.0 1898.6 1516.0 1902.9 1519.0 1906.0 1522.0 1916.3 1525.0 1923.5 1528.0 1935.5 1531.0 1945.4 1534.0 1948.8 1537.0 1950.8 1540.0 1949.9 1543.0 1955.0 1546.0 1964.1 1549.0 1972.8 1552.0 1979.4 1555.0 1987.5 1558.0 1988.1 1561.0 1994.0 1564.0 1996.8 1567.0 2002.2 1570.0 2011.4 1573.0 2023.7 1576.0 2030.3 1579.0 2037.3 1582.0 2042.7 1585.0 2048.6 1588.0 2060.8 1591.0 2061.0 1594.0 2066.4 1597.0 2064.9 1600.0 2067.5 1603.0 2071.4 1606.0 2071.2 1609.0 2074.2 1612.0 2079.1 1615.0 2083.1 1618.0 2085.5 1621.0 2084.2 1624.0 2085.0 1627.0 2082.1 1630.0 2087.5 1633.0 2088.1 1636.0 2093.6 1639.0 2095.6 1642.0 2094.8 1645.0 2097.4 1648.0 2097.4 1651.0 2100.1 1654.0 2110.7 1657.0 2104.0 1660.0 2090.4 1663.0 2078.4 1666.0 2086.1 1669.0 2091.7 1672.0 2093.5 1675.0 2094.9 1678.0 2093.6 1681.0 2091.0 1684.0 2093.7 1687.0 2094.4 1690.0 2098.6 1693.0 2101.0 1696.0 2095.5 1699.0 2086.6 1702.0 2085.3 1705.0 2077.1 1708.0 2073.0 1711.0 2076.3 1714.0 2076.5 1717.0 2077.5 1720.0 2077.8 1723.0 2072.9 1726.0 2073.5 1729.0 2071.1 1732.0 2072.0 1735.0 2070.1 1738.0 2072.0 1741.0 2078.2 1744.0 2081.7 1747.0 2083.3 1750.0 2075.1 1753.0 2065.4 1756.0 2059.1 1759.0 2057.2 1762.0 2055.5 1765.0 2048.2 1768.0 2040.4 1771.0 2032.0 1774.0 2040.9 1777.0 2042.7 1780.0 2042.8 1783.0 2039.0 1786.0 2037.3 1789.0 2037.6 1792.0 2043.0 1795.0 2049.6 1798.0 2040.6 1801.0 2037.4 1804.0 2030.1 1807.0 2032.1 1810.0 2030.8 1813.0 2030.5 1816.0 2032.2 1819.0 2033.4 1822.0 2035.6 1825.0 2038.3 1828.0 2041.5 1831.0 2039.6 1834.0 2034.6 1837.0 2031.6 1840.0 2026.4 1843.0 2028.7 1846.0 2037.1 1849.0 2042.7 1852.0 2050.8 1855.0 2046.0 1858.0 2046.9 1861.0 2045.6 1864.0 2047.5 1867.0 2051.9 1870.0 2059.3 1873.0 2069.7 1876.0 2070.0 1879.0 2076.1 1882.0 2077.8 1885.0 2076.2 1888.0 2083.1 1891.0 2091.9 1894.0 2094.0 1897.0 2093.9 1900.0 2098.2 1903.0 2099.2 1906.0 2108.6 1909.0 2112.9 1912.0 2122.0 1915.0 2126.1 1918.0 2123.0 1921.0 2124.2 1924.0 2126.9 1927.0 2140.1 1930.0 2152.3 1933.0 2150.2 1936.0 2154.3 1939.0 2161.1 1942.0 2167.0 1945.0 2175.1 1948.0 2179.5 1951.0 2185.3 1954.0 2191.7 1957.0 2197.7 1960.0 2207.6 1963.0 2214.8 1966.0 2222.4 1969.0 2230.4 1972.0 2246.2 1975.0 2251.5 1978.0 2254.7 1981.0 2255.5 1984.0 2255.1 1987.0 2259.7 1990.0 2268.2 1993.0 2281.4 1996.0 2287.7 1999.0 2298.0 2002.0 2304.6 2005.0 2314.1 2008.0 2323.1 2011.0 2327.5 2014.0 2331.2 2017.0 2331.1 2020.0 2337.4 2023.0 2340.9 2026.0 2340.4 2029.0 2350.0 2032.0 2359.6 2035.0 2366.1 2038.0 2373.3 2041.0 2381.3 2044.0 2386.3 2047.0 2387.0 2050.0 2394.5 2053.0 2397.3 2056.0 2400.0 2059.0 2407.6 2062.0 2415.1 2065.0 2422.7 2068.0 2430.3 2071.0 2432.4 2074.0 2437.2 2077.0 2438.9 2080.0 2440.0 2083.0 2449.7 2086.0 2455.4 2089.0 2462.1 2092.0 2467.7 2095.0 2469.1 2098.0 2474.9 2101.0 2478.2 2104.0 2480.7 2107.0 2485.0 2110.0 2490.0 2113.0 2493.2 2116.0 2499.8 2119.0 2500.3 2122.0 2502.9 2125.0 2504.8 2128.0 2503.7 2131.0 2507.2 2134.0 2511.4 2137.0 2514.2 2140.0 2515.0 2143.0 2521.4 2146.0 2522.3 2149.0 2522.2 2152.0 2524.8 2155.0 2526.1 2158.0 2527.6 2161.0 2528.8 2164.0 2531.5 2167.0 2532.3 2170.0 2533.6 2173.0 2534.3 2176.0 2535.3 2179.0 2534.0 2182.0 2535.7 2185.0 2536.6 2188.0 2536.2 2191.0 2537.1 2194.0 2536.9 2197.0 2537.8 2200.0 2538.8 2203.0 2538.2 2206.0 2538.6 2209.0 2539.9 2212.0 2539.2 2215.0 2539.2 2218.0 2540.1 2221.0 2539.3 2224.0 2540.2 2227.0 2539.5 2230.0 2539.9 2233.0 2538.5 2236.0 2539.5 2239.0 2539.9 2242.0 2538.5 2245.0 2540.3 2248.0 2538.8 2251.0 2539.4 2254.0 2538.9 2257.0 2539.5 2260.0 2539.8 2263.0 2538.7 2266.0 2540.5 2269.0 2539.5 2272.0 2539.8 2275.0 2539.9 2278.0 2539.5 2281.0 2539.4 2284.0 2540.1 2287.0 2540.0 2290.0 2539.4 2293.0 2540.3 2296.0 2539.5 2299.0 2539.0 2302.0 2539.5 2305.0 2539.1 2308.0 2539.4 2311.0 2540.6 2314.0 2539.9 2317.0 2540.9 2320.0 2540.7 2323.0 2539.3 2326.0 2541.2 2329.0 2541.2 2332.0 2539.4 2335.0 2541.1 2338.0 2540.2 2341.0 2540.3 2344.0 2541.4 2347.0 2539.9 2350.0 2540.5 2353.0 2541.4 2356.0 2541.0 2359.0 2540.5 2362.0 2541.5 2365.0 2541.3 2368.0 2540.9 2371.0 2539.9 2374.0 2541.0 2377.0 2540.6 2380.0 2540.2 2383.0 2539.9 2386.0 2540.9 2389.0 2540.1 2392.0 2540.8 2395.0 2541.2 2398.0 2540.9 2401.0 2540.5 2404.0 2541.2" fill="none" stroke="#d5b2fb" stroke-width="6" stroke-linejoin="round" stroke-linecap="round"/>
<path d="M640.0 2474.9 643.0 2473.7 646.0 2471.7 649.0 2467.0 652.0 2464.3 655.0 2464.1 658.0 2461.4 661.0 2462.0 664.0 2459.2 667.0 2456.7 670.0 2454.3 673.0 2452.7 676.0 2447.9 679.0 2446.9 682.0 2442.7 685.0 2443.6 688.0 2436.6 691.0 2437.7 694.0 2431.2 697.0 2431.5 700.0 2426.5 703.0 2424.2 706.0 2424.2 709.0 2414.0 712.0 2410.8 715.0 2414.1 718.0 2407.3 721.0 2400.4 724.0 2404.0 727.0 2400.1 730.0 2389.9 733.0 2387.5 736.0 2380.4 739.0 2376.9 742.0 2374.5 745.0 2366.0 748.0 2365.4 751.0 2355.4 754.0 2351.4 757.0 2351.5 760.0 2343.2 763.0 2338.4 766.0 2334.8 769.0 2328.8 772.0 2323.1 775.0 2314.7 778.0 2314.7 781.0 2311.0 784.0 2305.5 787.0 2297.5 790.0 2289.4 793.0 2283.9 796.0 2283.5 799.0 2280.4 802.0 2272.9 805.0 2270.9 808.0 2268.9 811.0 2263.6 814.0 2252.5 817.0 2239.4 820.0 2230.8 823.0 2232.4 826.0 2224.4 829.0 2220.4 832.0 2213.1 835.0 2209.8 838.0 2204.4 841.0 2202.5 844.0 2190.4 847.0 2183.9 850.0 2170.8 853.0 2165.8 856.0 2151.9 859.0 2145.2 862.0 2138.1 865.0 2132.8 868.0 2120.5 871.0 2116.4 874.0 2107.7 877.0 2101.5 880.0 2096.3 883.0 2093.7 886.0 2083.8 889.0 2076.6 892.0 2049.3 895.0 2034.4 898.0 2024.4 901.0 2017.4 904.0 2016.4 907.0 2012.1 910.0 1998.8 913.0 1994.6 916.0 1992.2 919.0 1982.4 922.0 1975.3 925.0 1967.1 928.0 1956.8 931.0 1951.0 934.0 1943.4 937.0 1933.0 940.0 1920.0 943.0 1909.9 946.0 1906.1 949.0 1903.7 952.0 1897.8 955.0 1890.1 958.0 1882.1 961.0 1879.8 964.0 1874.7 967.0 1871.2 970.0 1861.3 973.0 1855.5 976.0 1843.8 979.0 1826.6 982.0 1816.3 985.0 1816.7 988.0 1807.7 991.0 1808.7 994.0 1801.0 997.0 1796.8 1000.0 1788.7 1003.0 1776.6 1006.0 1769.0 1009.0 1762.2 1012.0 1759.8 1015.0 1754.0 1018.0 1743.7 1021.0 1743.9 1024.0 1734.4 1027.0 1726.9 1030.0 1722.5 1033.0 1720.8 1036.0 1711.5 1039.0 1706.0 1042.0 1702.4 1045.0 1696.7 1048.0 1689.1 1051.0 1680.3 1054.0 1677.6 1057.0 1676.0 1060.0 1670.9 1063.0 1665.1 1066.0 1659.2 1069.0 1652.9 1072.0 1648.2 1075.0 1639.1 1078.0 1627.1 1081.0 1632.2 1084.0 1633.2 1087.0 1631.8 1090.0 1632.1 1093.0 1631.6 1096.0 1627.4 1099.0 1626.6 1102.0 1620.6 1105.0 1615.6 1108.0 1614.8 1111.0 1613.1 1114.0 1616.7 1117.0 1613.4 1120.0 1610.8 1123.0 1613.5 1126.0 1613.4 1129.0 1620.5 1132.0 1625.6 1135.0 1621.2 1138.0 1618.1 1141.0 1617.5 1144.0 1615.0 1147.0 1615.9 1150.0 1609.7 1153.0 1607.4 1156.0 1613.2 1159.0 1623.4 1162.0 1631.1 1165.0 1629.0 1168.0 1630.0 1171.0 1624.1 1174.0 1620.2 1177.0 1622.6 1180.0 1621.0 1183.0 1630.4 1186.0 1652.3 1189.0 1652.5 1192.0 1654.5 1195.0 1658.0 1198.0 1665.8 1201.0 1662.0 1204.0 1672.4 1207.0 1680.2 1210.0 1685.2 1213.0 1686.6 1216.0 1685.3 1219.0 1695.0 1222.0 1700.6 1225.0 1710.0 1228.0 1715.0 1231.0 1725.0 1234.0 1734.1 1237.0 1743.4 1240.0 1747.0 1243.0 1755.4 1246.0 1766.8 1249.0 1776.8 1252.0 1783.2 1255.0 1795.2 1258.0 1806.6 1261.0 1806.2 1264.0 1809.8 1267.0 1814.5 1270.0 1827.0 1273.0 1835.1 1276.0 1846.5 1279.0 1856.5 1282.0 1871.3 1285.0 1881.4 1288.0 1895.0 1291.0 1897.2 1294.0 1899.8 1297.0 1901.8 1300.0 1905.4 1303.0 1912.3 1306.0 1919.5 1309.0 1927.3 1312.0 1940.8 1315.0 1951.0 1318.0 1970.2 1321.0 1983.6 1324.0 1991.9 1327.0 2004.3 1330.0 2014.0 1333.0 2017.7 1336.0 2019.0 1339.0 2024.6 1342.0 2028.2 1345.0 2032.6 1348.0 2041.0 1351.0 2046.1 1354.0 2054.7 1357.0 2061.6 1360.0 2071.4 1363.0 2080.3 1366.0 2089.8 1369.0 2100.2 1372.0 2113.1 1375.0 2119.6 1378.0 2130.2 1381.0 2139.0 1384.0 2151.7 1387.0 2157.5 1390.0 2161.5 1393.0 2169.9 1396.0 2173.9 1399.0 2177.2 1402.0 2178.2 1405.0 2192.4 1408.0 2201.8 1411.0 2210.5 1414.0 2219.7 1417.0 2224.5 1420.0 2225.6 1423.0 2232.8 1426.0 2229.9 1429.0 2233.9 1432.0 2243.2 1435.0 2255.3 1438.0 2263.3 1441.0 2273.2 1444.0 2277.2 1447.0 2283.1 1450.0 2288.3 1453.0 2293.8 1456.0 2301.3 1459.0 2304.9 1462.0 2307.8 1465.0 2316.5 1468.0 2321.5 1471.0 2326.7 1474.0 2331.6 1477.0 2336.8 1480.0 2342.0 1483.0 2345.0 1486.0 2350.2 1489.0 2351.2 1492.0 2352.7 1495.0 2352.0 1498.0 2354.6 1501.0 2361.1 1504.0 2368.1 1507.0 2371.9 1510.0 2379.4 1513.0 2380.6 1516.0 2385.8 1519.0 2388.3 1522.0 2393.0 1525.0 2394.5 1528.0 2394.9 1531.0 2396.5 1534.0 2399.2 1537.0 2401.6 1540.0 2403.7 1543.0 2403.6 1546.0 2406.7 1549.0 2410.4 1552.0 2413.8 1555.0 2417.1 1558.0 2420.5 1561.0 2425.2 1564.0 2428.1 1567.0 2431.6 1570.0 2432.0 1573.0 2434.5 1576.0 2435.2 1579.0 2434.8 1582.0 2436.5 1585.0 2432.6 1588.0 2436.2 1591.0 2442.2 1594.0 2442.5 1597.0 2443.7 1600.0 2447.5 1603.0 2446.1 1606.0 2447.0 1609.0 2446.1 1612.0 2446.0 1615.0 2445.6 1618.0 2448.4 1621.0 2450.9 1624.0 2451.9 1627.0 2451.7 1630.0 2453.4 1633.0 2451.5 1636.0 2452.0 1639.0 2456.0 1642.0 2455.3 1645.0 2456.5 1648.0 2454.2 1651.0 2456.3 1654.0 2458.5 1657.0 2460.7 1660.0 2462.1 1663.0 2462.8 1666.0 2461.7 1669.0 2462.8 1672.0 2466.2 1675.0 2467.8 1678.0 2465.9 1681.0 2464.2 1684.0 2466.2 1687.0 2465.6 1690.0 2464.5 1693.0 2463.7 1696.0 2464.2 1699.0 2465.2 1702.0 2462.6 1705.0 2464.5 1708.0 2466.3 1711.0 2465.1 1714.0 2462.4 1717.0 2463.1 1720.0 2461.3 1723.0 2464.3 1726.0 2463.9 1729.0 2462.2 1732.0 2464.7 1735.0 2465.6 1738.0 2466.1 1741.0 2465.7 1744.0 2466.0 1747.0 2466.9 1750.0 2470.2 1753.0 2466.1 1756.0 2466.1 1759.0 2465.1 1762.0 2462.9 1765.0 2464.1 1768.0 2464.8 1771.0 2467.1 1774.0 2469.0 1777.0 2470.7 1780.0 2473.1 1783.0 2468.3 1786.0 2466.9 1789.0 2466.9 1792.0 2465.0 1795.0 2467.0 1798.0 2469.1 1801.0 2467.6 1804.0 2472.0 1807.0 2470.6 1810.0 2472.8 1813.0 2476.2 1816.0 2475.9 1819.0 2473.2 1822.0 2469.5 1825.0 2469.7 1828.0 2471.2 1831.0 2476.3 1834.0 2475.6 1837.0 2477.7 1840.0 2480.7 1843.0 2480.7 1846.0 2480.4 1849.0 2479.9 1852.0 2482.3 1855.0 2479.8 1858.0 2482.5 1861.0 2480.7 1864.0 2482.0 1867.0 2482.4 1870.0 2485.1 1873.0 2486.2 1876.0 2484.5 1879.0 2486.9 1882.0 2488.8 1885.0 2489.2 1888.0 2491.9 1891.0 2493.5 1894.0 2495.8 1897.0 2495.3 1900.0 2495.0 1903.0 2493.6 1906.0 2498.0 1909.0 2497.4 1912.0 2496.1 1915.0 2499.9 1918.0 2500.5 1921.0 2497.6 1924.0 2502.0 1927.0 2500.8 1930.0 2501.2 1933.0 2501.9 1936.0 2503.6 1939.0 2502.3 1942.0 2502.9 1945.0 2503.8 1948.0 2505.3 1951.0 2505.2 1954.0 2505.6 1957.0 2509.7 1960.0 2508.0 1963.0 2509.5 1966.0 2511.5 1969.0 2514.7 1972.0 2512.2 1975.0 2514.1 1978.0 2518.1 1981.0 2518.9 1984.0 2519.5 1987.0 2518.0 1990.0 2517.7 1993.0 2517.3 1996.0 2521.9 1999.0 2522.3 2002.0 2522.5 2005.0 2524.9 2008.0 2523.4 2011.0 2525.4 2014.0 2527.5 2017.0 2523.8 2020.0 2526.6 2023.0 2524.7 2026.0 2528.3 2029.0 2528.6 2032.0 2527.9 2035.0 2527.1 2038.0 2525.3 2041.0 2528.0 2044.0 2528.1 2047.0 2529.0 2050.0 2528.2 2053.0 2533.2 2056.0 2532.0 2059.0 2533.0 2062.0 2535.1 2065.0 2536.2 2068.0 2535.2 2071.0 2536.0 2074.0 2538.0 2077.0 2536.1 2080.0 2539.2 2083.0 2535.3 2086.0 2539.7 2089.0 2538.8 2092.0 2539.7 2095.0 2542.0 2098.0 2538.6 2101.0 2540.3 2104.0 2541.1 2107.0 2541.0 2110.0 2540.6 2113.0 2541.1 2116.0 2540.9 2119.0 2541.3 2122.0 2540.9 2125.0 2540.3 2128.0 2540.2 2131.0 2539.8 2134.0 2539.9 2137.0 2539.7 2140.0 2541.6 2143.0 2539.9 2146.0 2540.9 2149.0 2539.9 2152.0 2541.6 2155.0 2540.7 2158.0 2540.0 2161.0 2541.4 2164.0 2541.4 2167.0 2541.7 2170.0 2540.2 2173.0 2540.5 2176.0 2541.1 2179.0 2540.3 2182.0 2540.9 2185.0 2541.2 2188.0 2541.3 2191.0 2541.4 2194.0 2541.3 2197.0 2540.4 2200.0 2541.3 2203.0 2540.7 2206.0 2540.2 2209.0 2539.9 2212.0 2541.1 2215.0 2540.6 2218.0 2540.1 2221.0 2540.9 2224.0 2540.7 2227.0 2540.6 2230.0 2541.1 2233.0 2541.0 2236.0 2541.0 2239.0 2541.9 2242.0 2541.8 2245.0 2540.6 2248.0 2541.7 2251.0 2540.6 2254.0 2541.9 2257.0 2540.1 2260.0 2540.7 2263.0 2541.9 2266.0 2541.4 2269.0 2541.5 2272.0 2540.5 2275.0 2540.3 2278.0 2542.0 2281.0 2540.2 2284.0 2540.5 2287.0 2541.0 2290.0 2541.8 2293.0 2541.5 2296.0 2542.1 2299.0 2541.7 2302.0 2541.0 2305.0 2542.0 2308.0 2540.8 2311.0 2540.3 2314.0 2542.1 2317.0 2542.0 2320.0 2541.5 2323.0 2541.2 2326.0 2540.7 2329.0 2540.7 2332.0 2540.4 2335.0 2540.5 2338.0 2541.2 2341.0 2542.1 2344.0 2542.2 2347.0 2541.3 2350.0 2541.7 2353.0 2541.3 2356.0 2541.9 2359.0 2541.8 2362.0 2542.3 2365.0 2542.1 2368.0 2541.7 2371.0 2541.6 2374.0 2540.7 2377.0 2541.4 2380.0 2541.3 2383.0 2540.7 2386.0 2540.8 2389.0 2541.3 2392.0 2540.8 2395.0 2541.7 2398.0 2541.1 2401.0 2542.5 2404.0 2541.9" fill="none" stroke="#74284f" stroke-width="7.2" stroke-linejoin="round" stroke-linecap="round"/>
<path d="M384.0 2467.1 386.2 2476.6 388.4 2481.0 390.6 2487.1 392.8 2482.6 395.0 2486.6 397.2 2488.4 399.4 2485.2 401.6 2487.3 403.8 2475.9 406.0 2477.3 408.2 2470.0 410.4 2467.6 412.6 2465.8 414.8 2474.2 417.0 2476.4 419.2 2474.3 421.4 2476.9 423.6 2471.6 425.8 2476.5 428.0 2472.6 430.2 2470.0 432.4 2467.7 434.6 2466.5 436.8 2474.9 439.0 2478.9 441.2 2473.1 443.4 2476.5 445.6 2468.5 447.8 2474.7 450.0 2476.8 452.2 2478.8 454.4 2474.4 456.6 2471.5 458.8 2468.2 461.0 2467.2 463.2 2477.0 465.4 2478.0 467.6 2481.6 469.8 2475.1 472.0 2469.7 474.2 2468.1 476.4 2457.0 478.6 2460.2 480.8 2454.1 483.0 2447.6 485.2 2445.8 487.4 2448.6 489.6 2444.2 491.8 2445.6 494.0 2446.3 496.2 2442.5 498.4 2436.8 500.6 2438.5 502.8 2432.9 505.0 2430.3 507.2 2427.3 509.4 2427.7 511.6 2423.1 513.8 2428.9 516.0 2431.4 518.2 2430.5 520.4 2440.4 522.6 2446.0 524.8 2430.9 527.0 2427.7 529.2 2431.3 531.4 2428.1 533.6 2422.0 535.8 2411.5 538.0 2408.0 540.2 2408.4 542.4 2387.2 544.6 2364.0 546.8 2361.0 549.0 2389.9 551.2 2384.4 553.4 2385.6 555.6 2368.3 557.8 2379.6 560.0 2367.1 562.2 2364.3 564.4 2349.0 566.6 2352.9 568.8 2350.6 571.0 2349.3 573.2 2342.9 575.4 2347.4 577.6 2336.7 579.8 2337.4 582.0 2344.6 584.2 2364.7 586.4 2347.0 588.6 2292.5 590.8 2289.4 593.0 2300.9 595.2 2299.1 597.4 2299.8 599.6 2294.8 601.8 2308.0 604.0 2304.9 606.2 2291.1 608.4 2280.5 610.6 2299.2 612.8 2283.5 615.0 2284.0 617.2 2274.6 619.4 2272.3 621.6 2251.0 623.8 2242.4 626.0 2223.8 628.2 2231.2 630.4 2224.8 632.6 2237.5 634.8 2236.3 637.0 2241.4 639.2 2227.2 641.4 2221.2 643.6 2216.7 645.8 2192.1 648.0 2169.6 650.2 2198.3 652.4 2223.5 654.6 2227.2 656.8 2212.9 659.0 2195.9 661.2 2176.5 663.4 2170.6 665.6 2183.0 667.8 2181.2 670.0 2176.3 672.2 2172.1 674.4 2141.4 676.6 2115.3 678.8 2111.9 681.0 2129.0 683.2 2131.6 685.4 2143.1 687.6 2138.1 689.8 2124.3 692.0 2131.0 694.2 2110.0 696.4 2106.4 698.6 2100.8 700.8 2095.3 703.0 2076.3 705.2 2040.7 707.4 1996.2 709.6 2018.1 711.8 2027.7 714.0 2066.5 716.2 2070.6 718.4 2088.6 720.6 2076.9 722.8 2045.2 725.0 2022.6 727.2 2004.8 729.4 1984.0 731.6 1989.0 733.8 1994.8 736.0 1979.3 738.2 1980.9 740.4 1954.9 742.6 1950.5 744.8 1931.4 747.0 1948.1 749.2 1946.5 751.4 1938.5 753.6 1914.1 755.8 1897.0 758.0 1887.4 760.2 1878.0 762.4 1889.6 764.6 1892.5 766.8 1883.4 769.0 1880.9 771.2 1857.5 773.4 1866.4 775.6 1870.3 777.8 1883.0 780.0 1886.6 782.2 1902.9 784.4 1866.2 786.6 1841.7 788.8 1824.1 791.0 1824.9 793.2 1822.5 795.4 1803.3 797.6 1797.1 799.8 1797.4 802.0 1795.2 804.2 1783.9 806.4 1793.2 808.6 1820.4 810.8 1820.0 813.0 1826.7 815.2 1834.8 817.4 1820.2 819.6 1820.0 821.8 1793.4 824.0 1797.5 826.2 1792.9 828.4 1788.0 830.6 1784.0 832.8 1778.8 835.0 1785.3 837.2 1787.9 839.4 1780.5 841.6 1767.0 843.8 1775.1 846.0 1767.3 848.2 1776.5 850.4 1795.5 852.6 1771.4 854.8 1746.6 857.0 1733.0 859.2 1699.2 861.4 1670.8 863.6 1651.8 865.8 1637.0 868.0 1660.6 870.2 1699.1 872.4 1710.8 874.6 1747.8 876.8 1772.8 879.0 1747.1 881.2 1737.5 883.4 1712.6 885.6 1687.3 887.8 1674.6 890.0 1690.7 892.2 1711.6 894.4 1716.4 896.6 1708.5 898.8 1706.2 901.0 1702.2 903.2 1705.8 905.4 1735.5 907.6 1736.1 909.8 1759.3 912.0 1725.9 914.2 1670.1 916.4 1625.6 918.6 1623.7 920.8 1660.7 923.0 1678.4 925.2 1695.6 927.4 1711.4 929.6 1708.6 931.8 1694.5 934.0 1660.3 936.2 1628.3 938.4 1658.4 940.6 1659.2 942.8 1695.5 945.0 1692.0 947.2 1716.0 949.4 1712.3 951.6 1704.5 953.8 1701.7 956.0 1698.5 958.2 1673.5 960.4 1666.5 962.6 1657.3 964.8 1660.0 967.0 1680.5 969.2 1684.8 971.4 1706.0 973.6 1723.2 975.8 1725.8 978.0 1733.8 980.2 1740.8 982.4 1764.2 984.6 1751.7 986.8 1747.9 989.0 1731.0 991.2 1704.1 993.4 1705.8 995.6 1691.5 997.8 1674.7 1000.0 1702.8 1002.2 1731.9 1004.4 1765.8 1006.6 1798.2 1008.8 1765.9 1011.0 1714.1 1013.2 1673.0 1015.4 1710.6 1017.6 1733.8 1019.8 1748.8 1022.0 1778.5 1024.2 1795.1 1026.4 1804.5 1028.6 1795.0 1030.8 1782.6 1033.0 1759.0 1035.2 1757.8 1037.4 1779.6 1039.6 1812.2 1041.8 1848.7 1044.0 1872.3 1046.2 1844.0 1048.4 1836.6 1050.6 1810.7 1052.8 1803.8 1055.0 1810.5 1057.2 1826.3 1059.4 1837.7 1061.6 1847.7 1063.8 1846.0 1066.0 1829.3 1068.2 1821.9 1070.4 1810.1 1072.6 1805.3 1074.8 1785.8 1077.0 1789.7 1079.2 1813.7 1081.4 1849.1 1083.6 1873.7 1085.8 1865.9 1088.0 1835.9 1090.2 1844.7 1092.4 1884.9 1094.6 1935.8 1096.8 1956.9 1099.0 1950.7 1101.2 1915.1 1103.4 1899.2 1105.6 1926.2 1107.8 1920.2 1110.0 1934.6 1112.2 1943.6 1114.4 1951.5 1116.6 1958.5 1118.8 1941.5 1121.0 1926.2 1123.2 1951.2 1125.4 1987.8 1127.6 2006.6 1129.8 2022.7 1132.0 2037.8 1134.2 2052.6 1136.4 2036.4 1138.6 2010.7 1140.8 2001.4 1143.0 2023.7 1145.2 2045.3 1147.4 2043.5 1149.6 2042.7 1151.8 2051.1 1154.0 2050.3 1156.2 2061.3 1158.4 2075.9 1160.6 2077.8 1162.8 2094.1 1165.0 2099.0 1167.2 2081.9 1169.4 2062.3 1171.6 2045.8 1173.8 2045.8 1176.0 2064.0 1178.2 2087.4 1180.4 2097.7 1182.6 2107.7 1184.8 2097.3 1187.0 2111.1 1189.2 2119.6 1191.4 2137.3 1193.6 2142.5 1195.8 2136.2 1198.0 2140.3 1200.2 2129.8 1202.4 2149.7 1204.6 2161.8 1206.8 2171.7 1209.0 2172.1 1211.2 2185.3 1213.4 2187.9 1215.6 2186.1 1217.8 2180.0 1220.0 2163.1 1222.2 2154.3 1224.4 2161.4 1226.6 2172.7 1228.8 2199.7 1231.0 2200.2 1233.2 2208.6 1235.4 2226.5 1237.6 2235.0 1239.8 2217.8 1242.0 2200.9 1244.2 2183.1 1246.4 2193.5 1248.6 2213.0 1250.8 2217.5 1253.0 2223.7 1255.2 2240.3 1257.4 2232.6 1259.6 2242.2 1261.8 2251.4 1264.0 2254.9 1266.2 2246.3 1268.4 2253.0 1270.6 2247.6 1272.8 2243.7 1275.0 2243.2 1277.2 2256.9 1279.4 2269.9 1281.6 2282.0 1283.8 2271.5 1286.0 2265.7 1288.2 2265.5 1290.4 2258.8 1292.6 2259.1 1294.8 2260.7 1297.0 2278.1 1299.2 2277.9 1301.4 2280.1 1303.6 2279.1 1305.8 2283.8 1308.0 2282.6 1310.2 2290.7 1312.4 2289.3 1314.6 2290.8 1316.8 2295.9 1319.0 2296.4 1321.2 2307.1 1323.4 2317.7 1325.6 2323.9 1327.8 2313.2 1330.0 2300.3 1332.2 2297.6 1334.4 2313.7 1336.6 2324.7 1338.8 2323.0 1341.0 2319.1 1343.2 2313.4 1345.4 2318.2 1347.6 2308.8 1349.8 2315.7 1352.0 2322.5 1354.2 2319.8 1356.4 2326.5 1358.6 2313.6 1360.8 2317.1 1363.0 2307.3 1365.2 2307.9 1367.4 2302.6 1369.6 2309.3 1371.8 2317.6 1374.0 2319.4 1376.2 2319.9 1378.4 2319.9 1380.6 2316.1 1382.8 2326.9 1385.0 2325.0 1387.2 2330.4 1389.4 2330.4 1391.6 2329.1 1393.8 2337.6 1396.0 2329.0 1398.2 2339.2 1400.4 2322.8 1402.6 2331.1 1404.8 2321.6 1407.0 2323.8 1409.2 2335.6 1411.4 2334.6 1413.6 2334.8 1415.8 2316.4 1418.0 2315.7 1420.2 2303.5 1422.4 2307.4 1424.6 2326.2 1426.8 2351.0 1429.0 2345.7 1431.2 2328.9 1433.4 2312.3 1435.6 2298.0 1437.8 2309.4 1440.0 2302.8 1442.2 2312.4 1444.4 2308.0 1446.6 2311.3 1448.8 2296.8 1451.0 2306.5 1453.2 2310.8 1455.4 2305.8 1457.6 2316.6 1459.8 2315.8 1462.0 2313.7 1464.2 2308.7 1466.4 2295.9 1468.6 2285.6 1470.8 2279.2 1473.0 2277.9 1475.2 2285.8 1477.4 2284.6 1479.6 2296.1 1481.8 2287.4 1484.0 2289.8 1486.2 2280.8 1488.4 2282.0 1490.6 2270.6 1492.8 2265.8 1495.0 2269.7 1497.2 2267.6 1499.4 2275.8 1501.6 2278.7 1503.8 2289.0 1506.0 2282.8 1508.2 2293.7 1510.4 2281.1 1512.6 2261.7 1514.8 2247.5 1517.0 2240.7 1519.2 2243.0 1521.4 2245.2 1523.6 2241.9 1525.8 2235.9 1528.0 2224.9 1530.2 2233.9 1532.4 2234.3 1534.6 2232.8 1536.8 2240.9 1539.0 2237.3 1541.2 2239.8 1543.4 2238.1 1545.6 2235.7 1547.8 2220.1 1550.0 2218.6 1552.2 2209.5 1554.4 2215.7 1556.6 2221.4 1558.8 2217.4 1561.0 2225.6 1563.2 2225.7 1565.4 2220.2 1567.6 2214.6 1569.8 2210.9 1572.0 2208.1 1574.2 2200.0 1576.4 2183.0 1578.6 2179.6 1580.8 2165.9 1583.0 2152.6 1585.2 2155.0 1587.4 2174.6 1589.6 2190.2 1591.8 2197.5 1594.0 2198.5 1596.2 2197.4 1598.4 2184.6 1600.6 2175.5 1602.8 2186.5 1605.0 2181.5 1607.2 2186.9 1609.4 2192.0 1611.6 2195.0 1613.8 2197.8 1616.0 2187.5 1618.2 2188.3 1620.4 2188.5 1622.6 2182.8 1624.8 2183.7 1627.0 2179.7 1629.2 2165.7 1631.4 2152.0 1633.6 2131.5 1635.8 2131.2 1638.0 2140.4 1640.2 2159.1 1642.4 2168.0 1644.6 2177.5 1646.8 2186.1 1649.0 2189.0 1651.2 2194.7 1653.4 2189.0 1655.6 2195.3 1657.8 2192.5 1660.0 2199.8 1662.2 2192.3 1664.4 2170.7 1666.6 2158.8 1668.8 2139.0 1671.0 2121.0 1673.2 2135.2 1675.4 2152.1 1677.6 2157.2 1679.8 2160.8 1682.0 2166.9 1684.2 2176.7 1686.4 2174.9 1688.6 2179.4 1690.8 2179.1 1693.0 2177.7 1695.2 2180.4 1697.4 2173.6 1699.6 2170.0 1701.8 2173.9 1704.0 2176.3 1706.2 2171.6 1708.4 2182.2 1710.6 2171.5 1712.8 2171.5 1715.0 2171.6 1717.2 2174.8 1719.4 2172.8 1721.6 2173.7 1723.8 2172.3 1726.0 2178.7 1728.2 2172.2 1730.4 2181.7 1732.6 2173.7 1734.8 2175.5 1737.0 2182.2 1739.2 2186.4 1741.4 2192.4 1743.6 2195.0 1745.8 2208.0 1748.0 2210.7 1750.2 2213.6 1752.4 2218.6 1754.6 2231.2 1756.8 2219.4 1759.0 2218.6 1761.2 2217.5 1763.4 2219.7 1765.6 2215.5 1767.8 2212.0 1770.0 2206.3 1772.2 2198.2 1774.4 2203.5 1776.6 2196.1 1778.8 2204.1 1781.0 2208.7 1783.2 2204.1 1785.4 2215.3 1787.6 2215.9 1789.8 2220.0 1792.0 2232.3 1794.2 2231.5 1796.4 2233.4 1798.6 2239.1 1800.8 2236.0 1803.0 2241.4 1805.2 2241.4 1807.4 2237.8 1809.6 2231.5 1811.8 2258.4 1814.0 2266.6 1816.2 2279.7 1818.4 2293.0 1820.6 2285.5 1822.8 2272.1 1825.0 2269.0 1827.2 2258.0 1829.4 2253.9 1831.6 2258.8 1833.8 2256.6 1836.0 2263.8 1838.2 2268.8 1840.4 2266.1 1842.6 2267.8 1844.8 2270.7 1847.0 2275.1 1849.2 2280.3 1851.4 2282.9 1853.6 2289.9 1855.8 2299.7 1858.0 2300.7 1860.2 2296.2 1862.4 2296.7 1864.6 2302.4 1866.8 2293.9 1869.0 2295.0 1871.2 2286.2 1873.4 2277.2 1875.6 2265.4 1877.8 2265.6 1880.0 2274.5 1882.2 2286.4 1884.4 2303.8 1886.6 2305.1 1888.8 2306.4 1891.0 2313.6 1893.2 2314.1 1895.4 2313.3 1897.6 2314.6 1899.8 2308.0 1902.0 2315.0 1904.2 2309.9 1906.4 2318.3 1908.6 2315.1 1910.8 2317.4 1913.0 2319.0 1915.2 2317.2 1917.4 2322.4 1919.6 2326.9 1921.8 2324.3 1924.0 2319.4 1926.2 2313.2 1928.4 2308.9 1930.6 2320.8 1932.8 2337.4 1935.0 2346.6 1937.2 2348.4 1939.4 2353.2 1941.6 2350.3 1943.8 2352.1 1946.0 2342.6 1948.2 2345.5 1950.4 2350.5 1952.6 2352.9 1954.8 2361.0 1957.0 2369.3 1959.2 2378.4 1961.4 2386.0 1963.6 2374.8 1965.8 2367.3 1968.0 2363.9 1970.2 2353.9 1972.4 2350.1 1974.6 2356.9 1976.8 2360.2 1979.0 2363.5 1981.2 2367.2 1983.4 2366.4 1985.6 2370.1 1987.8 2369.9 1990.0 2371.2 1992.2 2370.2 1994.4 2379.3 1996.6 2377.6 1998.8 2387.9 2001.0 2391.7 2003.2 2398.0 2005.4 2409.5 2007.6 2417.5 2009.8 2419.7 2012.0 2414.6 2014.2 2418.0 2016.4 2418.3 2018.6 2416.2 2020.8 2421.1 2023.0 2430.5 2025.2 2436.6 2027.4 2448.6 2029.6 2452.5 2031.8 2457.8 2034.0 2470.7 2036.2 2473.7 2038.4 2470.8 2040.6 2477.6 2042.8 2473.6 2045.0 2475.0 2047.2 2473.9 2049.4 2478.0 2051.6 2475.6 2053.8 2474.6 2056.0 2477.6 2058.2 2486.2 2060.4 2493.4 2062.6 2498.4 2064.8 2505.0 2067.0 2509.1 2069.2 2507.2 2071.4 2505.3 2073.6 2504.2 2075.8 2504.1 2078.0 2507.5 2080.2 2508.6 2082.4 2511.1 2084.6 2516.0 2086.8 2520.1 2089.0 2524.6 2091.2 2527.5 2093.4 2528.4 2095.6 2527.8 2097.8 2529.6 2100.0 2533.3 2102.2 2532.7 2104.4 2535.4 2106.6 2534.0 2108.8 2534.8 2111.0 2534.0 2113.2 2534.8 2115.4 2534.1 2117.6 2534.4 2119.8 2534.7 2122.0 2538.7 2124.2 2540.6 2126.4 2536.1 2128.6 2536.4 2130.8 2535.8 2133.0 2533.7 2135.2 2533.6 2137.4 2536.8 2139.6 2535.6 2141.8 2538.1 2144.0 2537.1 2146.2 2539.7 2148.4 2540.7 2150.6 2535.7 2152.8 2535.0 2155.0 2537.1 2157.2 2536.1 2159.4 2533.3 2161.6 2533.0 2163.8 2534.1 2166.0 2536.9 2168.2 2537.4 2170.4 2538.0 2172.6 2539.6 2174.8 2536.5 2177.0 2537.0 2179.2 2538.3 2181.4 2537.8 2183.6 2535.4 2185.8 2536.4 2188.0 2537.7 2190.2 2537.1 2192.4 2536.4 2194.6 2537.1 2196.8 2540.2 2199.0 2538.9 2201.2 2538.5 2203.4 2535.5 2205.6 2538.0 2207.8 2534.2 2210.0 2534.5 2212.2 2533.6 2214.4 2533.3 2216.6 2533.6 2218.8 2535.8 2221.0 2535.7 2223.2 2535.5 2225.4 2536.7 2227.6 2537.0 2229.8 2540.1 2232.0 2536.6 2234.2 2538.9 2236.4 2537.0 2238.6 2537.7 2240.8 2535.1 2243.0 2533.6 2245.2 2532.4 2247.4 2535.2 2249.6 2536.1 2251.8 2536.7 2254.0 2538.3 2256.2 2535.7 2258.4 2538.5 2260.6 2539.4 2262.8 2540.5 2265.0 2537.0 2267.2 2539.0 2269.4 2534.6 2271.6 2536.2 2273.8 2534.4 2276.0 2534.4 2278.2 2532.3 2280.4 2532.6 2282.6 2532.9 2284.8 2533.8 2287.0 2534.0 2289.2 2533.7 2291.4 2534.0 2293.6 2535.6 2295.8 2538.1 2298.0 2538.0 2300.2 2535.6 2302.4 2537.0 2304.6 2534.6 2306.8 2534.8 2309.0 2537.0 2311.2 2533.9 2313.4 2532.4 2315.6 2533.8 2317.8 2533.4 2320.0 2533.7 2322.2 2536.3 2324.4 2535.3 2326.6 2535.5 2328.8 2535.6 2331.0 2537.9 2333.2 2539.3 2335.4 2538.9 2337.6 2538.1 2339.8 2537.2 2342.0 2539.1 2344.2 2539.3 2346.4 2537.3 2348.6 2537.4 2350.8 2535.5 2353.0 2534.9 2355.2 2534.9 2357.4 2537.7 2359.6 2539.4 2361.8 2538.9 2364.0 2539.4 2366.2 2540.6 2368.4 2539.3 2370.6 2539.5 2372.8 2538.0 2375.0 2539.4 2377.2 2538.1 2379.4 2536.6 2381.6 2536.8 2383.8 2536.5 2386.0 2532.2 2388.2 2533.2 2390.4 2534.6 2392.6 2536.0 2394.8 2534.4 2397.0 2535.6 2399.2 2536.9 2401.4 2535.7 2403.6 2537.6" fill="none" stroke="#f3c6a8" stroke-width="7.5" stroke-linejoin="round" stroke-linecap="round"/>
<text class="t" x="273" y="2562.5" font-size="62" text-anchor="end">0.0</text>
<text class="t" x="273" y="2375.8" font-size="62" text-anchor="end">0.2</text>
<text class="t" x="273" y="2189.2" font-size="62" text-anchor="end">0.4</text>
<text class="t" x="273" y="2002.5" font-size="62" text-anchor="end">0.6</text>
<text class="t" x="273" y="1815.8" font-size="62" text-anchor="end">0.8</text>
<text class="t" x="273" y="1629.2" font-size="62" text-anchor="end">1.0</text>
<text class="t" x="273" y="1442.5" font-size="62" text-anchor="end">1.2</text>
<text class="t" x="323.0" y="2636.5" font-size="62" text-anchor="middle">1.7</text>
<text class="t" x="756.1" y="2636.5" font-size="62" text-anchor="middle">2.2</text>
<text class="t" x="1189.2" y="2636.5" font-size="62" text-anchor="middle">2.7</text>
<text class="t" x="1622.4" y="2636.5" font-size="62" text-anchor="middle">3.2</text>
<text class="t" x="2055.5" y="2636.5" font-size="62" text-anchor="middle">3.7</text>
<line x1="353" y1="1479.8" x2="455" y2="1479.8" stroke="#8393ae" stroke-width="6.5"/>
<line x1="353" y1="1577.0" x2="455" y2="1577.0" stroke="#d5b2fb" stroke-width="7"/>
<line x1="353" y1="1675.0" x2="455" y2="1675.0" stroke="#74284f" stroke-width="6.5"/>
<line x1="353" y1="1775.0" x2="455" y2="1775.0" stroke="#f3c6a8" stroke-width="7"/>
<text id="Ea" class="t" x="1363.95" y="1355.00" font-size="60" text-anchor="middle" textLength="328.09" lengthAdjust="spacingAndGlyphs">Energy (eV)</text>
<text id="Eb" class="t" x="1364.50" y="2719.00" font-size="60" text-anchor="middle" textLength="328.17" lengthAdjust="spacingAndGlyphs">Energy (eV)</text>
<text id="YTa" class="t" transform="translate(131.00,669.07) rotate(-90)" x="0" y="0" font-size="60" text-anchor="middle" textLength="658.32" lengthAdjust="spacingAndGlyphs">Normalised Absorbance</text>
<text id="YTb" class="t" transform="translate(134.00,1989.10) rotate(-90)" x="0" y="0" font-size="60" text-anchor="middle" textLength="552.56" lengthAdjust="spacingAndGlyphs">Normalised Intensity</text>
<text id="La0" class="t" x="1935.42" y="133.80" font-size="60" text-anchor="start" textLength="356.36" lengthAdjust="spacingAndGlyphs">Cyclohexane</text>
<text id="La1" class="t" x="1935.76" y="231.40" font-size="60" text-anchor="start" textLength="436.68" lengthAdjust="spacingAndGlyphs">Tetrahydrofuran</text>
<text id="La2" class="t" x="1935.90" y="329.00" font-size="60" text-anchor="start" textLength="304.71" lengthAdjust="spacingAndGlyphs">Acetonitrile</text>
<text id="La3" class="t" x="1938.50" y="426.00" font-size="60" text-anchor="start" textLength="160.33" lengthAdjust="spacingAndGlyphs">Water</text>
<text id="Lb0" class="t" x="461.70" y="1500.80" font-size="60" text-anchor="start" textLength="357.18" lengthAdjust="spacingAndGlyphs">Cyclohexane</text>
<text id="Lb1" class="t" x="462.14" y="1597.60" font-size="60" text-anchor="start" textLength="436.98" lengthAdjust="spacingAndGlyphs">Tetrahydrofuran</text>
<text id="Lb2" class="t" x="463.19" y="1696.00" font-size="60" text-anchor="start" textLength="304.00" lengthAdjust="spacingAndGlyphs">Acetonitrile</text>
<text id="Lb3" class="t" x="466.49" y="1792.50" font-size="60" text-anchor="start" textLength="160.24" lengthAdjust="spacingAndGlyphs">Water</text>
<text id="anom" class="t" x="938.08" y="1518.00" font-size="60" text-anchor="start" textLength="442.64" lengthAdjust="spacingAndGlyphs">anomalous peak</text>
<text id="norm" class="t" x="1672.36" y="1559.00" font-size="60" text-anchor="start" textLength="610.40" lengthAdjust="spacingAndGlyphs">"normal" fluorescence</text>
<text id="pa" class="s" x="25.14" y="94.70" font-size="82" text-anchor="start" textLength="85.47" lengthAdjust="spacingAndGlyphs">(a)</text>
<text id="pb" class="s" x="24.91" y="1472.40" font-size="82" text-anchor="start" textLength="88.26" lengthAdjust="spacingAndGlyphs">(b)</text>
</svg></body></html>
